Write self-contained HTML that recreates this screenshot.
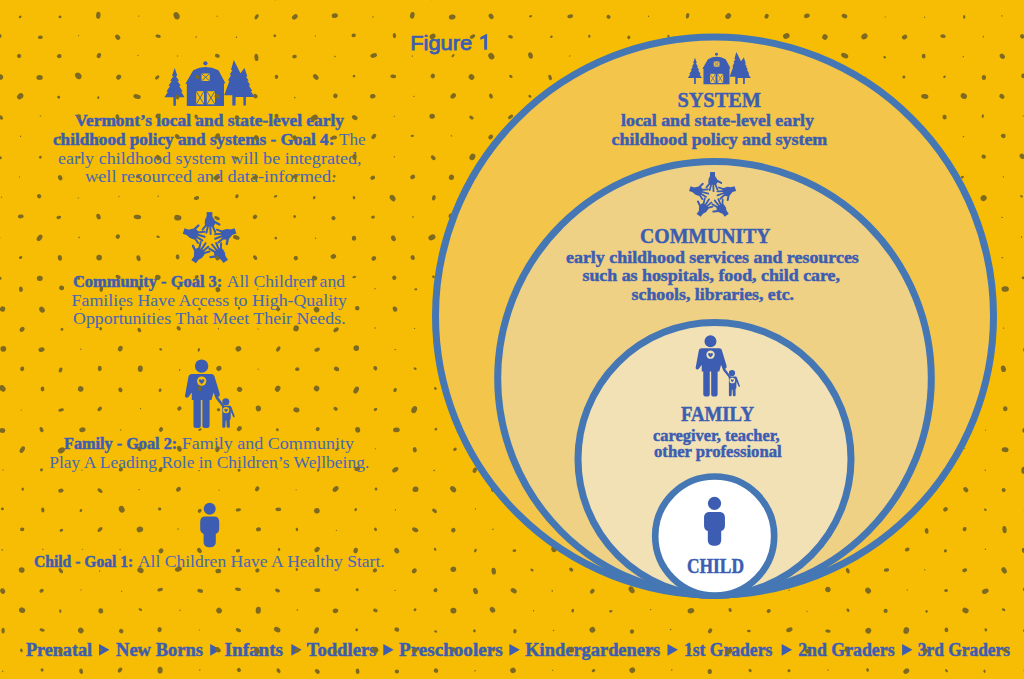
<!DOCTYPE html>
<html><head><meta charset="utf-8"><style>
html,body{margin:0;padding:0;background:#F7BD04;width:1024px;height:679px;overflow:hidden}
svg{display:block}
</style></head><body>
<svg width="1024" height="679" viewBox="0 0 1024 679">
<rect width="1024" height="679" fill="#F7BD04"/>
<g fill="#3C5DB1">
<g transform="translate(158,55)"><path d="M16.7,13.1 L19.32,20.80 17.82,21.00 21.02,25.80 19.52,26.00 22.69,30.70 21.19,30.90 24.69,36.60 23.19,36.80 26.60,42.20 L17.9,42.2 L17.9,50.8 L15.4,50.8 L15.4,42.2 L6.50,42.20 9.96,36.80 8.46,36.60 12.03,30.90 10.53,30.70 13.75,26.00 12.25,25.80 15.50,21.00 14.00,20.80 Z"/><path d="M75.8,4.9 L82.4,18.2 L86.5,13.0 L89.39,21.50 87.89,21.70 90.79,25.60 89.29,25.80 92.28,30.00 90.78,30.20 94.29,35.90 92.79,36.10 96.40,42.10 L87.9,42.1 L87.9,50.6 L85.4,50.6 L85.4,42.1 L77.6,42.1 L77.6,50.6 L74.3,50.6 L74.3,40.3 L66.2,40.3 L71.45,25.80 69.95,25.60 73.12,19.90 71.62,19.70 74.48,15.10 72.98,14.90 Z"/><path d="M35.2,15.2 Q47.4,8.6 60.5,15.2 L67.4,28.3 L66,28.6 L66,51 L28.8,51 L28.8,28.8 L27.3,29 Z"/><circle cx="47.4" cy="8.3" r="2.1"/><rect x="43.5" y="18.5" width="8.20" height="7.50" fill="#F7BD04"/><path d="M43.5,18.5 L51.7,26 M51.7,18.5 L43.5,26" stroke="#3C5DB1" stroke-width="0.9" fill="none"/><rect x="38.2" y="36.2" width="7.80" height="13.10" fill="#F7BD04"/><path d="M38.2,36.2 L46,49.3 M46,36.2 L38.2,49.3" stroke="#3C5DB1" stroke-width="0.9" fill="none"/><rect x="48.8" y="36.2" width="8.20" height="13.10" fill="#F7BD04"/><path d="M48.8,36.2 L57,49.3 M57,36.2 L48.8,49.3" stroke="#3C5DB1" stroke-width="0.9" fill="none"/></g>
<g transform="translate(209.6,239.4) scale(1.05)"><g transform="rotate(0)"><rect x="-2.8" y="-26" width="5.4" height="5"/><path d="M-2.8,-21.8 L2.6,-21.8 L4.6,-18.8 L5.3,-15 L3.8,-12.2 L-3.8,-12.4 L-4.6,-15 L-4.4,-18.6 Z"/><g stroke="#3C5DB1" stroke-linecap="round" fill="none"><path d="M-3.5,-13.4 L-6.7,-9.4" stroke-width="1.9"/><path d="M-1.5,-12.8 L-3.1,-6.4" stroke-width="1.9"/><path d="M0.7,-12.8 L1.0,-5.2" stroke-width="1.9"/><path d="M2.8,-13 L5.4,-7.0" stroke-width="1.9"/><path d="M4.2,-17 L9.3,-14.2" stroke-width="2.2"/></g></g><g transform="rotate(72)"><rect x="-2.8" y="-26" width="5.4" height="5"/><path d="M-2.8,-21.8 L2.6,-21.8 L4.6,-18.8 L5.3,-15 L3.8,-12.2 L-3.8,-12.4 L-4.6,-15 L-4.4,-18.6 Z"/><g stroke="#3C5DB1" stroke-linecap="round" fill="none"><path d="M-3.5,-13.4 L-6.7,-9.4" stroke-width="1.9"/><path d="M-1.5,-12.8 L-3.1,-6.4" stroke-width="1.9"/><path d="M0.7,-12.8 L1.0,-5.2" stroke-width="1.9"/><path d="M2.8,-13 L5.4,-7.0" stroke-width="1.9"/><path d="M4.2,-17 L9.3,-14.2" stroke-width="2.2"/></g></g><g transform="rotate(144)"><rect x="-2.8" y="-26" width="5.4" height="5"/><path d="M-2.8,-21.8 L2.6,-21.8 L4.6,-18.8 L5.3,-15 L3.8,-12.2 L-3.8,-12.4 L-4.6,-15 L-4.4,-18.6 Z"/><g stroke="#3C5DB1" stroke-linecap="round" fill="none"><path d="M-3.5,-13.4 L-6.7,-9.4" stroke-width="1.9"/><path d="M-1.5,-12.8 L-3.1,-6.4" stroke-width="1.9"/><path d="M0.7,-12.8 L1.0,-5.2" stroke-width="1.9"/><path d="M2.8,-13 L5.4,-7.0" stroke-width="1.9"/><path d="M4.2,-17 L9.3,-14.2" stroke-width="2.2"/></g></g><g transform="rotate(216)"><rect x="-2.8" y="-26" width="5.4" height="5"/><path d="M-2.8,-21.8 L2.6,-21.8 L4.6,-18.8 L5.3,-15 L3.8,-12.2 L-3.8,-12.4 L-4.6,-15 L-4.4,-18.6 Z"/><g stroke="#3C5DB1" stroke-linecap="round" fill="none"><path d="M-3.5,-13.4 L-6.7,-9.4" stroke-width="1.9"/><path d="M-1.5,-12.8 L-3.1,-6.4" stroke-width="1.9"/><path d="M0.7,-12.8 L1.0,-5.2" stroke-width="1.9"/><path d="M2.8,-13 L5.4,-7.0" stroke-width="1.9"/><path d="M4.2,-17 L9.3,-14.2" stroke-width="2.2"/></g></g><g transform="rotate(288)"><rect x="-2.8" y="-26" width="5.4" height="5"/><path d="M-2.8,-21.8 L2.6,-21.8 L4.6,-18.8 L5.3,-15 L3.8,-12.2 L-3.8,-12.4 L-4.6,-15 L-4.4,-18.6 Z"/><g stroke="#3C5DB1" stroke-linecap="round" fill="none"><path d="M-3.5,-13.4 L-6.7,-9.4" stroke-width="1.9"/><path d="M-1.5,-12.8 L-3.1,-6.4" stroke-width="1.9"/><path d="M0.7,-12.8 L1.0,-5.2" stroke-width="1.9"/><path d="M2.8,-13 L5.4,-7.0" stroke-width="1.9"/><path d="M4.2,-17 L9.3,-14.2" stroke-width="2.2"/></g></g></g>
<g transform="translate(178,354)"><path d="M23.6,20 L33.5,20 C35,20 36,21 36.5,22.5 L41.5,39 C42,41 42,42.5 40,43 L46.5,52 L44.5,53 L37.8,44.5 L35.5,38.5 L33.5,46 L31.6,46 L31.6,71.5 C31.6,74 29.5,74 28,74 C26,74 24.4,74 24.4,71.5 L24.4,46 L22.8,46 L22.8,71.5 C22.8,74 21,74 19.5,74 C17.5,74 15.5,74 15.5,71.5 L15.5,46 L13.8,46 L13.8,38.5 L10.5,43 C9,44.5 6.5,43.5 7,41.5 L10.5,22.5 C11,21 12,20 13.8,20 Z"/><circle cx="23.6" cy="12.1" r="6.7"/><path d="M45.5,51.7 L51.5,51.7 C52.5,51.7 53,52.2 53.4,53 L56.6,62 C57,63 56,63.8 55.2,63 L52.8,57.5 L52.6,65.5 L51.8,65.5 L51.8,73 C51.8,74 49,74 48.8,73 L48.4,66.5 L47.6,66.5 L47.4,73 C47.2,74 44.5,74 44.3,73 L44.3,54.5 L44,52.5 Z"/><circle cx="47.8" cy="47.7" r="3.5"/><circle cx="23.67" cy="27.1" r="4.7" fill="#F7BD04"/><path d="M23.67,26.3 C23.2,24.8 21.0,24.8 21.0,26.5 C21.0,27.9 22.6,28.9 23.67,30.2 C24.7,28.9 26.3,27.9 26.3,26.5 C26.3,24.8 24.1,24.8 23.67,26.3 Z" fill="#3C5DB1"/><circle cx="48.1" cy="56.1" r="3.2" fill="#F7BD04"/><path d="M48.1,55.5 C47.8,54.5 46.3,54.5 46.3,55.7 C46.3,56.6 47.4,57.3 48.1,58.2 C48.8,57.3 49.9,56.6 49.9,55.7 C49.9,54.5 48.4,54.5 48.1,55.5 Z" fill="#3C5DB1"/></g>
<g transform="translate(209.7,508.7)"><circle cx="0" cy="0" r="6"/><path d="M-4.5,7.8 L4.5,7.8 C7.6,7.8 9.5,9.7 9.5,13 L9.5,20 C9.5,22.5 8.6,24 6.1,25.2 L6.1,33 C6.1,37 3.6,38.6 0,38.6 C-3.6,38.6 -6.1,37 -6.1,33 L-6.1,25.2 C-8.6,24 -9.5,22.5 -9.5,20 L-9.5,13 C-9.5,9.7 -7.6,7.8 -4.5,7.8 Z"/></g>
<text x="75" y="126" font-size="16.5" textLength="269.0" lengthAdjust="spacingAndGlyphs" font-family="Liberation Serif" ><tspan font-weight="bold" stroke="#3C5DB1" stroke-width="0.45">Vermont’s local and state-level early</tspan></text><text x="53" y="144.8" font-size="16.5" textLength="281.4" lengthAdjust="spacingAndGlyphs" font-family="Liberation Serif" ><tspan font-weight="bold" stroke="#3C5DB1" stroke-width="0.45">childhood policy and systems - Goal 4:</tspan></text><text x="339" y="144.8" font-size="17.24" textLength="26.6" lengthAdjust="spacingAndGlyphs" font-family="Liberation Serif" ><tspan font-weight="normal" fill="#4667B6">The</tspan></text><text x="58" y="163.6" font-size="17.24" textLength="303.6" lengthAdjust="spacingAndGlyphs" font-family="Liberation Serif" ><tspan font-weight="normal" fill="#4667B6">early childhood system will be integrated,</tspan></text><text x="85" y="181.6" font-size="17.24" textLength="250.7" lengthAdjust="spacingAndGlyphs" font-family="Liberation Serif" ><tspan font-weight="normal" fill="#4667B6">well resourced and data-informed.</tspan></text><text x="73" y="287" font-size="16.5" textLength="149.3" lengthAdjust="spacingAndGlyphs" font-family="Liberation Serif" ><tspan font-weight="bold" stroke="#3C5DB1" stroke-width="0.45">Community - Goal 3:</tspan></text><text x="226.7" y="287" font-size="17.24" textLength="118.3" lengthAdjust="spacingAndGlyphs" font-family="Liberation Serif" ><tspan font-weight="normal" fill="#4667B6">All Children and</tspan></text><text x="71.6" y="305.6" font-size="17.24" textLength="275.4" lengthAdjust="spacingAndGlyphs" font-family="Liberation Serif" ><tspan font-weight="normal" fill="#4667B6">Families Have Access to High-Quality</tspan></text><text x="73" y="323.6" font-size="17.24" textLength="272.6" lengthAdjust="spacingAndGlyphs" font-family="Liberation Serif" ><tspan font-weight="normal" fill="#4667B6">Opportunities That Meet Their Needs.</tspan></text><text x="64" y="448.5" font-size="16.5" textLength="113.2" lengthAdjust="spacingAndGlyphs" font-family="Liberation Serif" ><tspan font-weight="bold" stroke="#3C5DB1" stroke-width="0.45">Family - Goal 2:</tspan></text><text x="181.7" y="448.5" font-size="17.24" textLength="172.3" lengthAdjust="spacingAndGlyphs" font-family="Liberation Serif" ><tspan font-weight="normal" fill="#4667B6">Family and Community</tspan></text><text x="49.3" y="467.8" font-size="17.24" textLength="320.0" lengthAdjust="spacingAndGlyphs" font-family="Liberation Serif" ><tspan font-weight="normal" fill="#4667B6">Play A Leading Role in Children’s Wellbeing.</tspan></text><text x="34" y="567" font-size="16.5" textLength="99.2" lengthAdjust="spacingAndGlyphs" font-family="Liberation Serif" ><tspan font-weight="bold" stroke="#3C5DB1" stroke-width="0.45">Child - Goal 1:</tspan></text><text x="137.9" y="567" font-size="17.24" textLength="246.8" lengthAdjust="spacingAndGlyphs" font-family="Liberation Serif" ><tspan font-weight="normal" fill="#4667B6">All Children Have A Healthy Start.</tspan></text>
<text x="410.2" y="49.9" font-size="21" textLength="62" lengthAdjust="spacingAndGlyphs" font-family="Liberation Sans" stroke="#3C5DB1" stroke-width="0.75">Figure</text><path d="M487.1,34 L487.1,49.7 L484.2,49.7 L484.2,38.3 L480.3,39.7 L480.3,37.2 L486.4,34 Z"/>
<text x="26" y="656.3" font-size="18" textLength="66.0" lengthAdjust="spacingAndGlyphs" font-family="Liberation Serif" ><tspan font-weight="bold" stroke="#3C5DB1" stroke-width="0.45">Prenatal</tspan></text><text x="116" y="656.3" font-size="18" textLength="87.0" lengthAdjust="spacingAndGlyphs" font-family="Liberation Serif" ><tspan font-weight="bold" stroke="#3C5DB1" stroke-width="0.45">New Borns</tspan></text><text x="224.6" y="656.3" font-size="18" textLength="58.4" lengthAdjust="spacingAndGlyphs" font-family="Liberation Serif" ><tspan font-weight="bold" stroke="#3C5DB1" stroke-width="0.45">Infants</tspan></text><text x="306.7" y="656.3" font-size="18" textLength="69.8" lengthAdjust="spacingAndGlyphs" font-family="Liberation Serif" ><tspan font-weight="bold" stroke="#3C5DB1" stroke-width="0.45">Toddlers</tspan></text><text x="399" y="656.3" font-size="18" textLength="103.6" lengthAdjust="spacingAndGlyphs" font-family="Liberation Serif" ><tspan font-weight="bold" stroke="#3C5DB1" stroke-width="0.45">Preschoolers</tspan></text><text x="525.3" y="656.3" font-size="18" textLength="135.0" lengthAdjust="spacingAndGlyphs" font-family="Liberation Serif" ><tspan font-weight="bold" stroke="#3C5DB1" stroke-width="0.45">Kindergardeners</tspan></text><text x="684" y="656.3" font-size="18" textLength="88.3" lengthAdjust="spacingAndGlyphs" font-family="Liberation Serif" ><tspan font-weight="bold" stroke="#3C5DB1" stroke-width="0.45">1st Graders</tspan></text><text x="798.2" y="656.3" font-size="18" textLength="96.4" lengthAdjust="spacingAndGlyphs" font-family="Liberation Serif" ><tspan font-weight="bold" stroke="#3C5DB1" stroke-width="0.45">2nd Graders</tspan></text><text x="917.8" y="656.3" font-size="18" textLength="92.2" lengthAdjust="spacingAndGlyphs" font-family="Liberation Serif" ><tspan font-weight="bold" stroke="#3C5DB1" stroke-width="0.45">3rd Graders</tspan></text><path d="M99.0,643.9 L109.4,649.85 L99.0,655.8 Z"/><path d="M210.2,643.9 L220.6,649.85 L210.2,655.8 Z"/><path d="M291.3,643.9 L301.7,649.85 L291.3,655.8 Z"/><path d="M383.3,643.9 L393.7,649.85 L383.3,655.8 Z"/><path d="M509.4,643.9 L519.8,649.85 L509.4,655.8 Z"/><path d="M667.5,643.9 L677.9,649.85 L667.5,655.8 Z"/><path d="M781.7,643.9 L792.1,649.85 L781.7,655.8 Z"/><path d="M902.1,643.9 L912.5,649.85 L902.1,655.8 Z"/>
</g>
<g fill="#7D6A22"><ellipse cx="0.6" cy="-4.1" rx="1.4" ry="1.3" transform="rotate(13 0.6 -4.1)"/><ellipse cx="38.9" cy="-4.7" rx="0.8" ry="0.5" transform="rotate(78 38.9 -4.7)"/><ellipse cx="79.4" cy="-3.0" rx="2.8" ry="1.7" transform="rotate(40 79.4 -3.0)"/><ellipse cx="119.1" cy="-4.3" rx="2.4" ry="2.3" transform="rotate(8 119.1 -4.3)"/><ellipse cx="157.1" cy="-3.7" rx="0.7" ry="0.6" transform="rotate(147 157.1 -3.7)"/><ellipse cx="196.1" cy="-4.4" rx="2.4" ry="2.0" transform="rotate(11 196.1 -4.4)"/><ellipse cx="236.2" cy="-4.3" rx="2.5" ry="1.8" transform="rotate(105 236.2 -4.3)"/><ellipse cx="275.7" cy="-3.1" rx="3.4" ry="2.2" transform="rotate(103 275.7 -3.1)"/><ellipse cx="314.7" cy="-3.3" rx="2.3" ry="2.3" transform="rotate(21 314.7 -3.3)"/><ellipse cx="354.7" cy="-3.7" rx="0.8" ry="0.5" transform="rotate(120 354.7 -3.7)"/><ellipse cx="393.7" cy="-3.9" rx="3.0" ry="2.6" transform="rotate(107 393.7 -3.9)"/><ellipse cx="431.9" cy="-3.4" rx="3.7" ry="2.4" transform="rotate(120 431.9 -3.4)"/><ellipse cx="471.9" cy="-3.5" rx="3.0" ry="2.2" transform="rotate(51 471.9 -3.5)"/><ellipse cx="510.5" cy="-3.3" rx="0.8" ry="0.5" transform="rotate(21 510.5 -3.3)"/><ellipse cx="549.9" cy="-4.0" rx="0.7" ry="0.6" transform="rotate(157 549.9 -4.0)"/><ellipse cx="589.6" cy="-4.0" rx="2.9" ry="2.2" transform="rotate(156 589.6 -4.0)"/><ellipse cx="628.7" cy="-4.4" rx="1.9" ry="1.5" transform="rotate(27 628.7 -4.4)"/><ellipse cx="667.6" cy="-4.0" rx="1.6" ry="1.3" transform="rotate(47 667.6 -4.0)"/><ellipse cx="707.9" cy="-3.6" rx="1.7" ry="1.5" transform="rotate(124 707.9 -3.6)"/><ellipse cx="747.9" cy="-3.3" rx="2.1" ry="2.2" transform="rotate(140 747.9 -3.3)"/><ellipse cx="785.6" cy="-4.7" rx="2.4" ry="1.7" transform="rotate(114 785.6 -4.7)"/><ellipse cx="824.8" cy="-4.5" rx="1.4" ry="1.2" transform="rotate(9 824.8 -4.5)"/><ellipse cx="865.3" cy="-4.6" rx="0.7" ry="0.5" transform="rotate(157 865.3 -4.6)"/><ellipse cx="905.1" cy="-2.9" rx="1.6" ry="1.2" transform="rotate(22 905.1 -2.9)"/><ellipse cx="943.4" cy="-4.3" rx="2.5" ry="1.7" transform="rotate(18 943.4 -4.3)"/><ellipse cx="983.1" cy="-4.6" rx="2.8" ry="2.1" transform="rotate(171 983.1 -4.6)"/><ellipse cx="1023.0" cy="-3.5" rx="2.1" ry="2.0" transform="rotate(176 1023.0 -3.5)"/><ellipse cx="20.1" cy="16.8" rx="1.6" ry="1.1" transform="rotate(139 20.1 16.8)"/><ellipse cx="60.0" cy="16.9" rx="1.5" ry="1.4" transform="rotate(177 60.0 16.9)"/><ellipse cx="98.3" cy="15.3" rx="3.5" ry="2.2" transform="rotate(93 98.3 15.3)"/><ellipse cx="138.8" cy="16.1" rx="0.7" ry="0.5" transform="rotate(125 138.8 16.1)"/><ellipse cx="176.6" cy="15.7" rx="3.8" ry="2.9" transform="rotate(66 176.6 15.7)"/><ellipse cx="217.2" cy="16.2" rx="0.7" ry="0.6" transform="rotate(162 217.2 16.2)"/><ellipse cx="256.6" cy="16.8" rx="2.8" ry="1.7" transform="rotate(119 256.6 16.8)"/><ellipse cx="294.8" cy="16.9" rx="3.2" ry="2.2" transform="rotate(142 294.8 16.9)"/><ellipse cx="334.8" cy="15.6" rx="3.1" ry="2.4" transform="rotate(170 334.8 15.6)"/><ellipse cx="373.0" cy="16.9" rx="0.7" ry="0.7" transform="rotate(145 373.0 16.9)"/><ellipse cx="412.3" cy="15.3" rx="3.4" ry="2.3" transform="rotate(99 412.3 15.3)"/><ellipse cx="452.2" cy="17.0" rx="3.4" ry="2.5" transform="rotate(168 452.2 17.0)"/><ellipse cx="491.1" cy="16.4" rx="2.9" ry="2.2" transform="rotate(53 491.1 16.4)"/><ellipse cx="530.6" cy="16.2" rx="1.6" ry="1.1" transform="rotate(164 530.6 16.2)"/><ellipse cx="570.2" cy="16.3" rx="2.9" ry="1.9" transform="rotate(165 570.2 16.3)"/><ellipse cx="608.5" cy="16.8" rx="2.1" ry="1.9" transform="rotate(33 608.5 16.8)"/><ellipse cx="648.5" cy="16.3" rx="0.8" ry="0.6" transform="rotate(100 648.5 16.3)"/><ellipse cx="687.6" cy="15.8" rx="2.8" ry="1.7" transform="rotate(101 687.6 15.8)"/><ellipse cx="728.2" cy="16.1" rx="3.2" ry="2.5" transform="rotate(137 728.2 16.1)"/><ellipse cx="766.6" cy="16.3" rx="2.5" ry="2.0" transform="rotate(125 766.6 16.3)"/><ellipse cx="806.9" cy="15.8" rx="2.9" ry="2.1" transform="rotate(158 806.9 15.8)"/><ellipse cx="844.5" cy="16.1" rx="2.9" ry="2.2" transform="rotate(25 844.5 16.1)"/><ellipse cx="885.2" cy="17.0" rx="0.7" ry="0.5" transform="rotate(121 885.2 17.0)"/><ellipse cx="924.7" cy="17.2" rx="0.8" ry="0.6" transform="rotate(26 924.7 17.2)"/><ellipse cx="964.2" cy="16.9" rx="1.9" ry="1.2" transform="rotate(88 964.2 16.9)"/><ellipse cx="1001.9" cy="15.9" rx="0.8" ry="0.6" transform="rotate(61 1001.9 15.9)"/><ellipse cx="-0.5" cy="36.0" rx="2.1" ry="2.0" transform="rotate(79 -0.5 36.0)"/><ellipse cx="40.4" cy="37.3" rx="2.5" ry="1.7" transform="rotate(177 40.4 37.3)"/><ellipse cx="78.6" cy="35.6" rx="0.7" ry="0.5" transform="rotate(140 78.6 35.6)"/><ellipse cx="117.7" cy="37.2" rx="2.9" ry="2.2" transform="rotate(47 117.7 37.2)"/><ellipse cx="158.1" cy="36.2" rx="2.7" ry="1.7" transform="rotate(10 158.1 36.2)"/><ellipse cx="196.2" cy="37.1" rx="0.9" ry="0.6" transform="rotate(144 196.2 37.1)"/><ellipse cx="236.4" cy="37.2" rx="0.9" ry="0.6" transform="rotate(61 236.4 37.2)"/><ellipse cx="274.8" cy="35.7" rx="1.4" ry="1.3" transform="rotate(43 274.8 35.7)"/><ellipse cx="315.4" cy="35.9" rx="0.7" ry="0.6" transform="rotate(55 315.4 35.9)"/><ellipse cx="353.7" cy="35.4" rx="2.2" ry="1.8" transform="rotate(3 353.7 35.4)"/><ellipse cx="394.4" cy="35.6" rx="2.6" ry="1.7" transform="rotate(85 394.4 35.6)"/><ellipse cx="432.6" cy="36.4" rx="3.1" ry="2.5" transform="rotate(150 432.6 36.4)"/><ellipse cx="472.5" cy="36.6" rx="3.0" ry="1.8" transform="rotate(150 472.5 36.6)"/><ellipse cx="510.5" cy="36.8" rx="2.4" ry="1.6" transform="rotate(23 510.5 36.8)"/><ellipse cx="551.4" cy="36.7" rx="1.4" ry="1.1" transform="rotate(151 551.4 36.7)"/><ellipse cx="589.3" cy="36.2" rx="1.5" ry="1.2" transform="rotate(83 589.3 36.2)"/><ellipse cx="628.8" cy="37.3" rx="1.9" ry="1.5" transform="rotate(98 628.8 37.3)"/><ellipse cx="668.5" cy="36.4" rx="1.6" ry="1.1" transform="rotate(69 668.5 36.4)"/><ellipse cx="707.1" cy="36.1" rx="1.7" ry="1.1" transform="rotate(48 707.1 36.1)"/><ellipse cx="747.4" cy="36.4" rx="0.6" ry="0.6" transform="rotate(42 747.4 36.4)"/><ellipse cx="786.3" cy="36.0" rx="3.4" ry="2.7" transform="rotate(158 786.3 36.0)"/><ellipse cx="824.9" cy="37.0" rx="2.8" ry="2.7" transform="rotate(116 824.9 37.0)"/><ellipse cx="864.4" cy="36.4" rx="3.3" ry="2.7" transform="rotate(146 864.4 36.4)"/><ellipse cx="904.6" cy="37.1" rx="2.8" ry="2.2" transform="rotate(149 904.6 37.1)"/><ellipse cx="943.0" cy="36.1" rx="2.7" ry="1.8" transform="rotate(6 943.0 36.1)"/><ellipse cx="983.3" cy="36.7" rx="0.9" ry="0.6" transform="rotate(113 983.3 36.7)"/><ellipse cx="1022.3" cy="36.4" rx="2.1" ry="2.2" transform="rotate(135 1022.3 36.4)"/><ellipse cx="19.1" cy="56.0" rx="2.1" ry="2.1" transform="rotate(45 19.1 56.0)"/><ellipse cx="59.3" cy="56.2" rx="2.3" ry="2.1" transform="rotate(176 59.3 56.2)"/><ellipse cx="98.9" cy="55.6" rx="2.7" ry="2.1" transform="rotate(111 98.9 55.6)"/><ellipse cx="138.0" cy="55.5" rx="0.7" ry="0.6" transform="rotate(55 138.0 55.5)"/><ellipse cx="177.6" cy="56.0" rx="0.7" ry="0.6" transform="rotate(125 177.6 56.0)"/><ellipse cx="217.3" cy="55.8" rx="2.5" ry="1.9" transform="rotate(21 217.3 55.8)"/><ellipse cx="256.4" cy="57.4" rx="3.7" ry="2.0" transform="rotate(83 256.4 57.4)"/><ellipse cx="294.5" cy="56.6" rx="2.3" ry="1.8" transform="rotate(170 294.5 56.6)"/><ellipse cx="335.0" cy="56.5" rx="0.8" ry="0.7" transform="rotate(24 335.0 56.5)"/><ellipse cx="373.7" cy="55.5" rx="3.4" ry="2.2" transform="rotate(162 373.7 55.5)"/><ellipse cx="412.3" cy="56.1" rx="0.8" ry="0.6" transform="rotate(54 412.3 56.1)"/><ellipse cx="453.0" cy="55.7" rx="1.9" ry="1.1" transform="rotate(135 453.0 55.7)"/><ellipse cx="491.3" cy="56.2" rx="3.4" ry="2.8" transform="rotate(52 491.3 56.2)"/><ellipse cx="530.5" cy="55.5" rx="3.3" ry="2.3" transform="rotate(77 530.5 55.5)"/><ellipse cx="569.7" cy="56.0" rx="0.9" ry="0.5" transform="rotate(168 569.7 56.0)"/><ellipse cx="610.3" cy="57.1" rx="2.2" ry="1.9" transform="rotate(172 610.3 57.1)"/><ellipse cx="649.2" cy="55.5" rx="2.9" ry="2.3" transform="rotate(99 649.2 55.5)"/><ellipse cx="687.7" cy="55.5" rx="2.5" ry="2.1" transform="rotate(116 687.7 55.5)"/><ellipse cx="727.0" cy="56.9" rx="2.8" ry="2.4" transform="rotate(62 727.0 56.9)"/><ellipse cx="766.8" cy="56.2" rx="2.9" ry="2.6" transform="rotate(54 766.8 56.2)"/><ellipse cx="806.0" cy="55.9" rx="0.7" ry="0.5" transform="rotate(163 806.0 55.9)"/><ellipse cx="844.7" cy="55.6" rx="3.8" ry="2.4" transform="rotate(25 844.7 55.6)"/><ellipse cx="884.7" cy="57.2" rx="1.4" ry="1.2" transform="rotate(47 884.7 57.2)"/><ellipse cx="923.7" cy="56.1" rx="2.4" ry="1.9" transform="rotate(94 923.7 56.1)"/><ellipse cx="963.2" cy="56.7" rx="0.7" ry="0.7" transform="rotate(23 963.2 56.7)"/><ellipse cx="1002.3" cy="56.3" rx="2.9" ry="2.3" transform="rotate(45 1002.3 56.3)"/><ellipse cx="-0.4" cy="77.0" rx="3.6" ry="2.8" transform="rotate(4 -0.4 77.0)"/><ellipse cx="39.6" cy="77.4" rx="3.2" ry="2.5" transform="rotate(0 39.6 77.4)"/><ellipse cx="78.3" cy="75.9" rx="3.6" ry="2.9" transform="rotate(45 78.3 75.9)"/><ellipse cx="118.7" cy="77.1" rx="2.7" ry="2.3" transform="rotate(130 118.7 77.1)"/><ellipse cx="157.2" cy="77.4" rx="2.6" ry="1.6" transform="rotate(141 157.2 77.4)"/><ellipse cx="197.3" cy="76.9" rx="2.3" ry="1.7" transform="rotate(45 197.3 76.9)"/><ellipse cx="236.1" cy="76.0" rx="0.6" ry="0.6" transform="rotate(105 236.1 76.0)"/><ellipse cx="276.5" cy="76.8" rx="2.1" ry="1.8" transform="rotate(83 276.5 76.8)"/><ellipse cx="315.8" cy="77.0" rx="3.2" ry="2.2" transform="rotate(44 315.8 77.0)"/><ellipse cx="354.0" cy="76.1" rx="1.4" ry="1.3" transform="rotate(121 354.0 76.1)"/><ellipse cx="393.2" cy="76.4" rx="2.9" ry="1.8" transform="rotate(6 393.2 76.4)"/><ellipse cx="432.8" cy="76.0" rx="2.3" ry="2.2" transform="rotate(133 432.8 76.0)"/><ellipse cx="471.5" cy="77.1" rx="3.0" ry="2.7" transform="rotate(42 471.5 77.1)"/><ellipse cx="510.8" cy="76.4" rx="1.9" ry="1.3" transform="rotate(34 510.8 76.4)"/><ellipse cx="550.1" cy="77.5" rx="2.9" ry="1.7" transform="rotate(71 550.1 77.5)"/><ellipse cx="590.8" cy="77.3" rx="0.6" ry="0.5" transform="rotate(71 590.8 77.3)"/><ellipse cx="628.7" cy="77.4" rx="3.0" ry="2.3" transform="rotate(59 628.7 77.4)"/><ellipse cx="668.3" cy="76.2" rx="2.1" ry="2.1" transform="rotate(68 668.3 76.2)"/><ellipse cx="708.8" cy="75.8" rx="0.6" ry="0.5" transform="rotate(63 708.8 75.8)"/><ellipse cx="747.8" cy="76.4" rx="2.9" ry="2.3" transform="rotate(148 747.8 76.4)"/><ellipse cx="785.9" cy="76.3" rx="0.8" ry="0.6" transform="rotate(166 785.9 76.3)"/><ellipse cx="826.3" cy="75.6" rx="2.6" ry="2.4" transform="rotate(146 826.3 75.6)"/><ellipse cx="865.6" cy="77.3" rx="0.6" ry="0.7" transform="rotate(46 865.6 77.3)"/><ellipse cx="903.9" cy="77.0" rx="1.5" ry="1.5" transform="rotate(111 903.9 77.0)"/><ellipse cx="944.5" cy="76.8" rx="1.5" ry="1.1" transform="rotate(136 944.5 76.8)"/><ellipse cx="983.9" cy="77.5" rx="2.6" ry="2.2" transform="rotate(86 983.9 77.5)"/><ellipse cx="1023.2" cy="75.9" rx="2.3" ry="1.9" transform="rotate(89 1023.2 75.9)"/><ellipse cx="20.2" cy="96.3" rx="3.5" ry="2.7" transform="rotate(139 20.2 96.3)"/><ellipse cx="58.7" cy="97.2" rx="1.6" ry="1.4" transform="rotate(14 58.7 97.2)"/><ellipse cx="98.3" cy="97.6" rx="1.4" ry="1.1" transform="rotate(99 98.3 97.6)"/><ellipse cx="137.1" cy="96.6" rx="3.8" ry="2.3" transform="rotate(15 137.1 96.6)"/><ellipse cx="177.4" cy="97.0" rx="2.5" ry="1.8" transform="rotate(75 177.4 97.0)"/><ellipse cx="217.2" cy="96.2" rx="2.8" ry="2.1" transform="rotate(22 217.2 96.2)"/><ellipse cx="255.3" cy="96.1" rx="2.4" ry="2.1" transform="rotate(36 255.3 96.1)"/><ellipse cx="294.9" cy="97.6" rx="0.9" ry="0.6" transform="rotate(59 294.9 97.6)"/><ellipse cx="335.4" cy="95.9" rx="2.3" ry="2.2" transform="rotate(118 335.4 95.9)"/><ellipse cx="372.8" cy="96.2" rx="2.8" ry="2.2" transform="rotate(165 372.8 96.2)"/><ellipse cx="413.9" cy="96.4" rx="0.7" ry="0.7" transform="rotate(105 413.9 96.4)"/><ellipse cx="453.2" cy="95.9" rx="3.1" ry="2.3" transform="rotate(140 453.2 95.9)"/><ellipse cx="490.9" cy="96.1" rx="2.6" ry="1.8" transform="rotate(66 490.9 96.1)"/><ellipse cx="529.9" cy="96.3" rx="1.7" ry="1.3" transform="rotate(37 529.9 96.3)"/><ellipse cx="570.8" cy="96.7" rx="2.2" ry="1.8" transform="rotate(37 570.8 96.7)"/><ellipse cx="609.8" cy="95.8" rx="0.7" ry="0.6" transform="rotate(99 609.8 95.8)"/><ellipse cx="648.4" cy="97.6" rx="0.8" ry="0.6" transform="rotate(51 648.4 97.6)"/><ellipse cx="688.8" cy="97.6" rx="1.7" ry="1.2" transform="rotate(75 688.8 97.6)"/><ellipse cx="726.4" cy="97.5" rx="1.5" ry="1.4" transform="rotate(37 726.4 97.5)"/><ellipse cx="766.6" cy="96.0" rx="2.8" ry="1.9" transform="rotate(159 766.6 96.0)"/><ellipse cx="805.2" cy="96.9" rx="0.8" ry="0.6" transform="rotate(164 805.2 96.9)"/><ellipse cx="845.3" cy="97.5" rx="1.7" ry="1.1" transform="rotate(51 845.3 97.5)"/><ellipse cx="884.0" cy="95.9" rx="0.8" ry="0.7" transform="rotate(174 884.0 95.9)"/><ellipse cx="924.8" cy="96.4" rx="3.7" ry="2.4" transform="rotate(10 924.8 96.4)"/><ellipse cx="963.8" cy="96.1" rx="3.3" ry="2.7" transform="rotate(29 963.8 96.1)"/><ellipse cx="1001.9" cy="96.4" rx="2.8" ry="2.2" transform="rotate(33 1001.9 96.4)"/><ellipse cx="0.9" cy="117.5" rx="2.4" ry="1.7" transform="rotate(44 0.9 117.5)"/><ellipse cx="40.5" cy="116.0" rx="0.8" ry="0.6" transform="rotate(7 40.5 116.0)"/><ellipse cx="78.9" cy="116.9" rx="2.6" ry="2.0" transform="rotate(55 78.9 116.9)"/><ellipse cx="117.4" cy="117.0" rx="2.7" ry="1.9" transform="rotate(79 117.4 117.0)"/><ellipse cx="157.6" cy="116.1" rx="2.3" ry="2.1" transform="rotate(140 157.6 116.1)"/><ellipse cx="196.2" cy="116.6" rx="2.2" ry="1.7" transform="rotate(78 196.2 116.6)"/><ellipse cx="236.8" cy="117.3" rx="2.1" ry="2.0" transform="rotate(15 236.8 117.3)"/><ellipse cx="276.5" cy="116.0" rx="2.1" ry="2.0" transform="rotate(68 276.5 116.0)"/><ellipse cx="314.3" cy="117.7" rx="3.8" ry="2.7" transform="rotate(147 314.3 117.7)"/><ellipse cx="354.8" cy="117.6" rx="3.0" ry="2.2" transform="rotate(30 354.8 117.6)"/><ellipse cx="394.3" cy="116.3" rx="0.7" ry="0.6" transform="rotate(29 394.3 116.3)"/><ellipse cx="432.2" cy="116.3" rx="2.8" ry="2.5" transform="rotate(166 432.2 116.3)"/><ellipse cx="471.4" cy="117.6" rx="2.4" ry="1.6" transform="rotate(33 471.4 117.6)"/><ellipse cx="510.6" cy="116.8" rx="2.9" ry="1.7" transform="rotate(141 510.6 116.8)"/><ellipse cx="550.9" cy="117.5" rx="2.4" ry="2.2" transform="rotate(100 550.9 117.5)"/><ellipse cx="590.6" cy="116.3" rx="0.9" ry="0.6" transform="rotate(71 590.6 116.3)"/><ellipse cx="629.2" cy="116.1" rx="3.3" ry="2.3" transform="rotate(138 629.2 116.1)"/><ellipse cx="668.9" cy="117.7" rx="2.1" ry="2.2" transform="rotate(46 668.9 117.7)"/><ellipse cx="707.0" cy="116.0" rx="2.7" ry="1.8" transform="rotate(0 707.0 116.0)"/><ellipse cx="746.5" cy="116.2" rx="2.5" ry="2.0" transform="rotate(161 746.5 116.2)"/><ellipse cx="785.7" cy="116.5" rx="2.1" ry="1.6" transform="rotate(64 785.7 116.5)"/><ellipse cx="826.0" cy="116.7" rx="1.7" ry="1.3" transform="rotate(37 826.0 116.7)"/><ellipse cx="864.3" cy="117.0" rx="0.9" ry="0.5" transform="rotate(27 864.3 117.0)"/><ellipse cx="903.4" cy="117.0" rx="3.5" ry="2.4" transform="rotate(48 903.4 117.0)"/><ellipse cx="944.6" cy="117.2" rx="2.4" ry="2.1" transform="rotate(80 944.6 117.2)"/><ellipse cx="982.8" cy="116.2" rx="1.9" ry="1.1" transform="rotate(96 982.8 116.2)"/><ellipse cx="1023.2" cy="116.0" rx="0.8" ry="0.5" transform="rotate(99 1023.2 116.0)"/><ellipse cx="20.6" cy="136.2" rx="0.8" ry="0.6" transform="rotate(115 20.6 136.2)"/><ellipse cx="59.9" cy="137.3" rx="1.5" ry="1.1" transform="rotate(160 59.9 137.3)"/><ellipse cx="99.1" cy="136.8" rx="0.9" ry="0.6" transform="rotate(84 99.1 136.8)"/><ellipse cx="137.6" cy="137.3" rx="1.4" ry="1.2" transform="rotate(7 137.6 137.3)"/><ellipse cx="177.3" cy="136.7" rx="2.8" ry="2.1" transform="rotate(48 177.3 136.7)"/><ellipse cx="217.4" cy="136.3" rx="3.2" ry="2.3" transform="rotate(116 217.4 136.3)"/><ellipse cx="256.3" cy="137.7" rx="2.6" ry="2.3" transform="rotate(42 256.3 137.7)"/><ellipse cx="294.6" cy="137.7" rx="2.4" ry="2.2" transform="rotate(59 294.6 137.7)"/><ellipse cx="334.3" cy="137.5" rx="2.7" ry="2.1" transform="rotate(176 334.3 137.5)"/><ellipse cx="373.8" cy="136.5" rx="2.9" ry="1.9" transform="rotate(130 373.8 136.5)"/><ellipse cx="412.3" cy="135.9" rx="1.7" ry="1.1" transform="rotate(164 412.3 135.9)"/><ellipse cx="451.4" cy="135.9" rx="0.9" ry="0.6" transform="rotate(26 451.4 135.9)"/><ellipse cx="490.7" cy="137.0" rx="2.7" ry="2.1" transform="rotate(133 490.7 137.0)"/><ellipse cx="530.0" cy="137.6" rx="1.8" ry="1.4" transform="rotate(160 530.0 137.6)"/><ellipse cx="569.4" cy="135.9" rx="3.7" ry="2.1" transform="rotate(37 569.4 135.9)"/><ellipse cx="609.8" cy="136.4" rx="3.6" ry="2.6" transform="rotate(149 609.8 136.4)"/><ellipse cx="648.4" cy="136.7" rx="0.7" ry="0.6" transform="rotate(37 648.4 136.7)"/><ellipse cx="687.8" cy="136.5" rx="0.7" ry="0.5" transform="rotate(129 687.8 136.5)"/><ellipse cx="726.5" cy="136.7" rx="3.2" ry="2.8" transform="rotate(111 726.5 136.7)"/><ellipse cx="766.8" cy="136.3" rx="2.8" ry="1.8" transform="rotate(127 766.8 136.3)"/><ellipse cx="805.0" cy="136.3" rx="2.7" ry="2.7" transform="rotate(31 805.0 136.3)"/><ellipse cx="845.3" cy="137.4" rx="3.7" ry="2.0" transform="rotate(88 845.3 137.4)"/><ellipse cx="884.1" cy="137.7" rx="0.8" ry="0.6" transform="rotate(150 884.1 137.7)"/><ellipse cx="923.1" cy="137.1" rx="1.5" ry="1.4" transform="rotate(90 923.1 137.1)"/><ellipse cx="963.5" cy="136.6" rx="0.9" ry="0.6" transform="rotate(142 963.5 136.6)"/><ellipse cx="1003.3" cy="135.9" rx="2.4" ry="2.2" transform="rotate(16 1003.3 135.9)"/><ellipse cx="0.3" cy="157.7" rx="1.5" ry="1.5" transform="rotate(90 0.3 157.7)"/><ellipse cx="40.3" cy="157.2" rx="1.6" ry="1.3" transform="rotate(136 40.3 157.2)"/><ellipse cx="79.4" cy="157.4" rx="1.5" ry="1.1" transform="rotate(152 79.4 157.4)"/><ellipse cx="117.7" cy="156.9" rx="0.8" ry="0.7" transform="rotate(104 117.7 156.9)"/><ellipse cx="158.1" cy="157.6" rx="2.9" ry="2.2" transform="rotate(54 158.1 157.6)"/><ellipse cx="197.0" cy="156.3" rx="0.7" ry="0.5" transform="rotate(59 197.0 156.3)"/><ellipse cx="235.5" cy="157.9" rx="1.5" ry="1.5" transform="rotate(131 235.5 157.9)"/><ellipse cx="276.1" cy="156.8" rx="0.7" ry="0.7" transform="rotate(143 276.1 156.8)"/><ellipse cx="314.7" cy="156.0" rx="0.8" ry="0.5" transform="rotate(37 314.7 156.0)"/><ellipse cx="354.5" cy="156.9" rx="2.8" ry="2.1" transform="rotate(90 354.5 156.9)"/><ellipse cx="394.3" cy="156.8" rx="0.8" ry="0.6" transform="rotate(133 394.3 156.8)"/><ellipse cx="433.2" cy="157.7" rx="2.8" ry="1.9" transform="rotate(41 433.2 157.7)"/><ellipse cx="472.4" cy="156.9" rx="3.4" ry="2.8" transform="rotate(122 472.4 156.9)"/><ellipse cx="512.0" cy="157.4" rx="1.7" ry="1.1" transform="rotate(76 512.0 157.4)"/><ellipse cx="550.9" cy="156.8" rx="2.3" ry="1.9" transform="rotate(82 550.9 156.8)"/><ellipse cx="590.6" cy="156.7" rx="2.9" ry="1.7" transform="rotate(118 590.6 156.7)"/><ellipse cx="628.6" cy="157.5" rx="3.0" ry="1.6" transform="rotate(98 628.6 157.5)"/><ellipse cx="668.7" cy="157.4" rx="3.2" ry="2.1" transform="rotate(103 668.7 157.4)"/><ellipse cx="707.7" cy="157.8" rx="2.7" ry="2.2" transform="rotate(94 707.7 157.8)"/><ellipse cx="746.4" cy="157.9" rx="1.8" ry="1.2" transform="rotate(137 746.4 157.9)"/><ellipse cx="785.5" cy="156.8" rx="1.4" ry="1.2" transform="rotate(72 785.5 156.8)"/><ellipse cx="825.2" cy="157.4" rx="2.7" ry="1.9" transform="rotate(48 825.2 157.4)"/><ellipse cx="864.9" cy="156.4" rx="3.2" ry="2.2" transform="rotate(144 864.9 156.4)"/><ellipse cx="904.3" cy="157.1" rx="0.8" ry="0.7" transform="rotate(114 904.3 157.1)"/><ellipse cx="944.3" cy="157.6" rx="1.9" ry="1.2" transform="rotate(115 944.3 157.6)"/><ellipse cx="983.7" cy="156.7" rx="2.3" ry="2.0" transform="rotate(23 983.7 156.7)"/><ellipse cx="1022.2" cy="156.3" rx="2.9" ry="2.4" transform="rotate(46 1022.2 156.3)"/><ellipse cx="19.6" cy="177.0" rx="0.8" ry="0.5" transform="rotate(44 19.6 177.0)"/><ellipse cx="60.2" cy="177.8" rx="2.7" ry="2.1" transform="rotate(65 60.2 177.8)"/><ellipse cx="97.9" cy="177.7" rx="0.9" ry="0.7" transform="rotate(141 97.9 177.7)"/><ellipse cx="138.2" cy="176.6" rx="2.1" ry="1.6" transform="rotate(171 138.2 176.6)"/><ellipse cx="176.9" cy="176.4" rx="0.7" ry="0.5" transform="rotate(140 176.9 176.4)"/><ellipse cx="216.7" cy="177.6" rx="3.5" ry="2.2" transform="rotate(160 216.7 177.6)"/><ellipse cx="255.2" cy="177.4" rx="2.9" ry="2.2" transform="rotate(151 255.2 177.4)"/><ellipse cx="295.2" cy="176.6" rx="2.8" ry="1.9" transform="rotate(159 295.2 176.6)"/><ellipse cx="334.3" cy="176.3" rx="1.4" ry="1.3" transform="rotate(11 334.3 176.3)"/><ellipse cx="372.7" cy="177.7" rx="2.5" ry="2.0" transform="rotate(155 372.7 177.7)"/><ellipse cx="412.7" cy="176.9" rx="2.6" ry="2.1" transform="rotate(151 412.7 176.9)"/><ellipse cx="451.4" cy="177.3" rx="2.7" ry="2.6" transform="rotate(115 451.4 177.3)"/><ellipse cx="491.6" cy="177.0" rx="2.9" ry="1.8" transform="rotate(177 491.6 177.0)"/><ellipse cx="530.6" cy="177.8" rx="2.6" ry="2.7" transform="rotate(113 530.6 177.8)"/><ellipse cx="569.6" cy="176.9" rx="1.6" ry="1.3" transform="rotate(139 569.6 176.9)"/><ellipse cx="610.2" cy="176.9" rx="2.6" ry="2.2" transform="rotate(53 610.2 176.9)"/><ellipse cx="649.1" cy="177.6" rx="2.3" ry="2.0" transform="rotate(175 649.1 177.6)"/><ellipse cx="688.4" cy="177.6" rx="1.5" ry="1.2" transform="rotate(106 688.4 177.6)"/><ellipse cx="726.5" cy="176.7" rx="0.8" ry="0.7" transform="rotate(98 726.5 176.7)"/><ellipse cx="767.0" cy="177.6" rx="0.7" ry="0.7" transform="rotate(110 767.0 177.6)"/><ellipse cx="806.4" cy="177.2" rx="3.3" ry="2.6" transform="rotate(113 806.4 177.2)"/><ellipse cx="845.8" cy="176.3" rx="2.3" ry="2.1" transform="rotate(82 845.8 176.3)"/><ellipse cx="884.9" cy="176.8" rx="0.6" ry="0.7" transform="rotate(165 884.9 176.8)"/><ellipse cx="923.5" cy="176.9" rx="3.5" ry="2.5" transform="rotate(46 923.5 176.9)"/><ellipse cx="962.3" cy="177.2" rx="1.6" ry="1.3" transform="rotate(168 962.3 177.2)"/><ellipse cx="1003.3" cy="176.9" rx="0.7" ry="0.7" transform="rotate(104 1003.3 176.9)"/><ellipse cx="1.5" cy="197.1" rx="0.7" ry="0.6" transform="rotate(169 1.5 197.1)"/><ellipse cx="39.1" cy="196.2" rx="2.2" ry="2.1" transform="rotate(38 39.1 196.2)"/><ellipse cx="78.3" cy="197.9" rx="0.8" ry="0.5" transform="rotate(174 78.3 197.9)"/><ellipse cx="118.9" cy="196.5" rx="0.6" ry="0.6" transform="rotate(44 118.9 196.5)"/><ellipse cx="158.2" cy="196.3" rx="0.8" ry="0.6" transform="rotate(154 158.2 196.3)"/><ellipse cx="196.5" cy="198.1" rx="2.7" ry="1.9" transform="rotate(168 196.5 198.1)"/><ellipse cx="236.9" cy="196.3" rx="2.1" ry="1.6" transform="rotate(117 236.9 196.3)"/><ellipse cx="275.6" cy="196.3" rx="1.8" ry="1.1" transform="rotate(155 275.6 196.3)"/><ellipse cx="314.2" cy="197.7" rx="1.7" ry="1.2" transform="rotate(122 314.2 197.7)"/><ellipse cx="354.0" cy="197.7" rx="1.7" ry="1.3" transform="rotate(75 354.0 197.7)"/><ellipse cx="392.6" cy="198.1" rx="3.5" ry="2.5" transform="rotate(53 392.6 198.1)"/><ellipse cx="433.8" cy="197.8" rx="2.8" ry="1.8" transform="rotate(109 433.8 197.8)"/><ellipse cx="471.9" cy="197.5" rx="2.4" ry="1.9" transform="rotate(160 471.9 197.5)"/><ellipse cx="510.4" cy="196.7" rx="2.9" ry="2.2" transform="rotate(51 510.4 196.7)"/><ellipse cx="549.8" cy="197.8" rx="2.6" ry="2.2" transform="rotate(160 549.8 197.8)"/><ellipse cx="590.7" cy="197.8" rx="3.6" ry="2.5" transform="rotate(49 590.7 197.8)"/><ellipse cx="629.4" cy="197.7" rx="2.9" ry="1.8" transform="rotate(15 629.4 197.7)"/><ellipse cx="668.8" cy="197.5" rx="1.8" ry="1.5" transform="rotate(42 668.8 197.5)"/><ellipse cx="708.5" cy="197.1" rx="2.3" ry="1.8" transform="rotate(135 708.5 197.1)"/><ellipse cx="747.4" cy="197.9" rx="0.9" ry="0.7" transform="rotate(42 747.4 197.9)"/><ellipse cx="785.9" cy="196.5" rx="3.2" ry="2.4" transform="rotate(106 785.9 196.5)"/><ellipse cx="825.6" cy="197.2" rx="0.8" ry="0.6" transform="rotate(102 825.6 197.2)"/><ellipse cx="864.3" cy="197.4" rx="0.6" ry="0.7" transform="rotate(67 864.3 197.4)"/><ellipse cx="904.4" cy="196.2" rx="2.8" ry="2.5" transform="rotate(62 904.4 196.2)"/><ellipse cx="943.8" cy="196.7" rx="0.9" ry="0.7" transform="rotate(88 943.8 196.7)"/><ellipse cx="983.6" cy="198.1" rx="3.1" ry="2.9" transform="rotate(138 983.6 198.1)"/><ellipse cx="1021.5" cy="196.3" rx="1.4" ry="1.1" transform="rotate(33 1021.5 196.3)"/><ellipse cx="20.8" cy="216.4" rx="2.9" ry="1.9" transform="rotate(170 20.8 216.4)"/><ellipse cx="58.8" cy="217.4" rx="2.4" ry="1.7" transform="rotate(173 58.8 217.4)"/><ellipse cx="98.5" cy="216.6" rx="2.9" ry="2.1" transform="rotate(71 98.5 216.6)"/><ellipse cx="137.4" cy="217.0" rx="3.8" ry="2.2" transform="rotate(7 137.4 217.0)"/><ellipse cx="177.8" cy="217.7" rx="3.7" ry="2.8" transform="rotate(8 177.8 217.7)"/><ellipse cx="217.0" cy="218.1" rx="3.0" ry="1.6" transform="rotate(26 217.0 218.1)"/><ellipse cx="255.0" cy="216.9" rx="2.3" ry="2.0" transform="rotate(136 255.0 216.9)"/><ellipse cx="294.6" cy="216.5" rx="1.4" ry="1.3" transform="rotate(30 294.6 216.5)"/><ellipse cx="333.5" cy="218.1" rx="2.1" ry="2.1" transform="rotate(35 333.5 218.1)"/><ellipse cx="373.0" cy="217.1" rx="1.9" ry="1.4" transform="rotate(160 373.0 217.1)"/><ellipse cx="412.9" cy="216.9" rx="0.9" ry="0.7" transform="rotate(113 412.9 216.9)"/><ellipse cx="451.7" cy="216.4" rx="3.2" ry="2.6" transform="rotate(26 451.7 216.4)"/><ellipse cx="491.1" cy="217.1" rx="2.6" ry="1.7" transform="rotate(157 491.1 217.1)"/><ellipse cx="530.2" cy="217.2" rx="0.7" ry="0.7" transform="rotate(60 530.2 217.2)"/><ellipse cx="569.3" cy="218.0" rx="1.9" ry="1.1" transform="rotate(176 569.3 218.0)"/><ellipse cx="609.0" cy="216.7" rx="2.3" ry="1.9" transform="rotate(52 609.0 216.7)"/><ellipse cx="648.0" cy="216.8" rx="1.9" ry="1.5" transform="rotate(167 648.0 216.8)"/><ellipse cx="689.1" cy="216.3" rx="2.7" ry="2.7" transform="rotate(53 689.1 216.3)"/><ellipse cx="728.1" cy="217.3" rx="3.0" ry="2.2" transform="rotate(0 728.1 217.3)"/><ellipse cx="766.8" cy="216.5" rx="0.8" ry="0.7" transform="rotate(39 766.8 216.5)"/><ellipse cx="805.2" cy="216.4" rx="0.8" ry="0.6" transform="rotate(35 805.2 216.4)"/><ellipse cx="845.5" cy="217.7" rx="2.5" ry="1.8" transform="rotate(37 845.5 217.7)"/><ellipse cx="885.1" cy="217.1" rx="3.3" ry="2.2" transform="rotate(12 885.1 217.1)"/><ellipse cx="924.6" cy="218.0" rx="2.1" ry="2.2" transform="rotate(60 924.6 218.0)"/><ellipse cx="963.9" cy="216.8" rx="2.1" ry="2.2" transform="rotate(86 963.9 216.8)"/><ellipse cx="1002.2" cy="217.4" rx="0.9" ry="0.6" transform="rotate(29 1002.2 217.4)"/><ellipse cx="-0.3" cy="237.8" rx="0.8" ry="0.6" transform="rotate(93 -0.3 237.8)"/><ellipse cx="39.6" cy="237.9" rx="3.6" ry="2.3" transform="rotate(128 39.6 237.9)"/><ellipse cx="79.1" cy="237.4" rx="0.9" ry="0.7" transform="rotate(89 79.1 237.4)"/><ellipse cx="117.8" cy="236.6" rx="2.1" ry="2.3" transform="rotate(40 117.8 236.6)"/><ellipse cx="158.1" cy="236.7" rx="1.8" ry="1.1" transform="rotate(17 158.1 236.7)"/><ellipse cx="197.4" cy="236.6" rx="0.8" ry="0.6" transform="rotate(94 197.4 236.6)"/><ellipse cx="236.3" cy="237.4" rx="3.4" ry="2.1" transform="rotate(22 236.3 237.4)"/><ellipse cx="275.8" cy="238.1" rx="1.4" ry="1.2" transform="rotate(25 275.8 238.1)"/><ellipse cx="315.6" cy="238.2" rx="0.8" ry="0.6" transform="rotate(30 315.6 238.2)"/><ellipse cx="354.0" cy="238.2" rx="2.5" ry="2.2" transform="rotate(95 354.0 238.2)"/><ellipse cx="393.4" cy="238.3" rx="3.0" ry="2.2" transform="rotate(60 393.4 238.3)"/><ellipse cx="431.9" cy="237.4" rx="3.7" ry="2.7" transform="rotate(153 431.9 237.4)"/><ellipse cx="472.4" cy="237.1" rx="3.7" ry="2.2" transform="rotate(76 472.4 237.1)"/><ellipse cx="510.4" cy="236.6" rx="2.1" ry="1.9" transform="rotate(91 510.4 236.6)"/><ellipse cx="551.3" cy="238.1" rx="3.5" ry="2.8" transform="rotate(114 551.3 238.1)"/><ellipse cx="590.4" cy="236.9" rx="2.6" ry="2.6" transform="rotate(48 590.4 236.9)"/><ellipse cx="629.3" cy="237.2" rx="2.9" ry="2.0" transform="rotate(45 629.3 237.2)"/><ellipse cx="667.8" cy="237.5" rx="2.9" ry="2.3" transform="rotate(117 667.8 237.5)"/><ellipse cx="708.0" cy="236.6" rx="3.2" ry="2.3" transform="rotate(84 708.0 236.6)"/><ellipse cx="746.8" cy="236.8" rx="0.7" ry="0.6" transform="rotate(73 746.8 236.8)"/><ellipse cx="786.6" cy="237.7" rx="0.8" ry="0.7" transform="rotate(110 786.6 237.7)"/><ellipse cx="826.0" cy="237.3" rx="1.8" ry="1.3" transform="rotate(99 826.0 237.3)"/><ellipse cx="864.9" cy="237.5" rx="1.5" ry="1.1" transform="rotate(92 864.9 237.5)"/><ellipse cx="904.5" cy="237.3" rx="0.7" ry="0.7" transform="rotate(43 904.5 237.3)"/><ellipse cx="943.0" cy="236.5" rx="1.9" ry="1.2" transform="rotate(139 943.0 236.5)"/><ellipse cx="982.9" cy="237.8" rx="3.1" ry="2.1" transform="rotate(70 982.9 237.8)"/><ellipse cx="1021.6" cy="237.0" rx="0.7" ry="0.7" transform="rotate(133 1021.6 237.0)"/><ellipse cx="20.6" cy="257.5" rx="1.8" ry="1.3" transform="rotate(153 20.6 257.5)"/><ellipse cx="59.9" cy="257.9" rx="2.8" ry="2.1" transform="rotate(86 59.9 257.9)"/><ellipse cx="99.1" cy="257.6" rx="2.8" ry="2.8" transform="rotate(1 99.1 257.6)"/><ellipse cx="138.5" cy="258.2" rx="3.0" ry="2.0" transform="rotate(75 138.5 258.2)"/><ellipse cx="177.6" cy="257.0" rx="2.4" ry="1.9" transform="rotate(82 177.6 257.0)"/><ellipse cx="217.1" cy="258.1" rx="2.6" ry="1.9" transform="rotate(58 217.1 258.1)"/><ellipse cx="255.1" cy="257.6" rx="2.5" ry="1.7" transform="rotate(55 255.1 257.6)"/><ellipse cx="295.8" cy="258.1" rx="2.2" ry="2.2" transform="rotate(58 295.8 258.1)"/><ellipse cx="333.4" cy="256.5" rx="2.8" ry="2.4" transform="rotate(164 333.4 256.5)"/><ellipse cx="373.8" cy="258.4" rx="2.5" ry="2.2" transform="rotate(139 373.8 258.4)"/><ellipse cx="412.7" cy="257.6" rx="2.5" ry="2.1" transform="rotate(70 412.7 257.6)"/><ellipse cx="451.5" cy="257.2" rx="1.9" ry="1.4" transform="rotate(95 451.5 257.2)"/><ellipse cx="492.5" cy="257.4" rx="2.6" ry="2.0" transform="rotate(158 492.5 257.4)"/><ellipse cx="531.0" cy="258.1" rx="2.6" ry="2.3" transform="rotate(62 531.0 258.1)"/><ellipse cx="570.2" cy="256.7" rx="0.7" ry="0.7" transform="rotate(149 570.2 256.7)"/><ellipse cx="610.3" cy="257.3" rx="3.4" ry="2.7" transform="rotate(178 610.3 257.3)"/><ellipse cx="648.2" cy="256.8" rx="0.7" ry="0.6" transform="rotate(91 648.2 256.8)"/><ellipse cx="688.4" cy="256.5" rx="2.6" ry="1.9" transform="rotate(179 688.4 256.5)"/><ellipse cx="726.4" cy="257.1" rx="2.8" ry="1.8" transform="rotate(124 726.4 257.1)"/><ellipse cx="766.7" cy="257.6" rx="3.3" ry="2.6" transform="rotate(35 766.7 257.6)"/><ellipse cx="806.1" cy="257.3" rx="1.7" ry="1.3" transform="rotate(179 806.1 257.3)"/><ellipse cx="844.5" cy="256.8" rx="0.7" ry="0.6" transform="rotate(19 844.5 256.8)"/><ellipse cx="883.7" cy="256.5" rx="2.8" ry="2.0" transform="rotate(145 883.7 256.5)"/><ellipse cx="923.2" cy="257.0" rx="3.0" ry="2.7" transform="rotate(64 923.2 257.0)"/><ellipse cx="963.1" cy="257.2" rx="0.9" ry="0.6" transform="rotate(63 963.1 257.2)"/><ellipse cx="1002.4" cy="257.7" rx="0.9" ry="0.6" transform="rotate(173 1002.4 257.7)"/><ellipse cx="0.1" cy="278.3" rx="1.4" ry="1.5" transform="rotate(154 0.1 278.3)"/><ellipse cx="39.8" cy="278.4" rx="3.0" ry="2.6" transform="rotate(173 39.8 278.4)"/><ellipse cx="78.7" cy="278.3" rx="1.6" ry="1.4" transform="rotate(40 78.7 278.3)"/><ellipse cx="118.1" cy="276.9" rx="2.8" ry="1.8" transform="rotate(31 118.1 276.9)"/><ellipse cx="157.8" cy="277.3" rx="2.9" ry="2.5" transform="rotate(21 157.8 277.3)"/><ellipse cx="196.7" cy="277.0" rx="2.1" ry="1.7" transform="rotate(149 196.7 277.0)"/><ellipse cx="236.6" cy="277.2" rx="0.7" ry="0.5" transform="rotate(6 236.6 277.2)"/><ellipse cx="276.3" cy="276.8" rx="0.8" ry="0.5" transform="rotate(49 276.3 276.8)"/><ellipse cx="314.6" cy="278.0" rx="2.8" ry="2.2" transform="rotate(29 314.6 278.0)"/><ellipse cx="354.2" cy="277.0" rx="1.9" ry="1.1" transform="rotate(171 354.2 277.0)"/><ellipse cx="394.3" cy="277.7" rx="2.2" ry="2.1" transform="rotate(47 394.3 277.7)"/><ellipse cx="433.5" cy="276.8" rx="1.5" ry="1.3" transform="rotate(38 433.5 276.8)"/><ellipse cx="471.9" cy="277.9" rx="2.6" ry="1.8" transform="rotate(139 471.9 277.9)"/><ellipse cx="510.8" cy="278.3" rx="2.4" ry="1.9" transform="rotate(15 510.8 278.3)"/><ellipse cx="550.4" cy="277.6" rx="1.7" ry="1.1" transform="rotate(101 550.4 277.6)"/><ellipse cx="589.3" cy="278.0" rx="1.4" ry="1.2" transform="rotate(41 589.3 278.0)"/><ellipse cx="630.1" cy="278.3" rx="1.6" ry="1.5" transform="rotate(139 630.1 278.3)"/><ellipse cx="668.9" cy="277.3" rx="0.7" ry="0.5" transform="rotate(122 668.9 277.3)"/><ellipse cx="708.6" cy="277.3" rx="2.7" ry="2.1" transform="rotate(45 708.6 277.3)"/><ellipse cx="747.7" cy="278.0" rx="2.2" ry="1.7" transform="rotate(164 747.7 278.0)"/><ellipse cx="786.1" cy="277.3" rx="0.6" ry="0.5" transform="rotate(36 786.1 277.3)"/><ellipse cx="826.5" cy="277.7" rx="0.7" ry="0.6" transform="rotate(32 826.5 277.7)"/><ellipse cx="864.8" cy="276.6" rx="2.3" ry="1.9" transform="rotate(123 864.8 276.6)"/><ellipse cx="905.1" cy="277.8" rx="3.5" ry="2.3" transform="rotate(8 905.1 277.8)"/><ellipse cx="943.1" cy="278.4" rx="0.7" ry="0.5" transform="rotate(142 943.1 278.4)"/><ellipse cx="983.5" cy="278.2" rx="2.1" ry="2.1" transform="rotate(71 983.5 278.2)"/><ellipse cx="1023.2" cy="277.9" rx="1.4" ry="1.5" transform="rotate(76 1023.2 277.9)"/><ellipse cx="20.9" cy="289.2" rx="2.8" ry="2.0" transform="rotate(82 20.9 289.2)"/><ellipse cx="61.6" cy="287.9" rx="2.5" ry="2.3" transform="rotate(23 61.6 287.9)"/><ellipse cx="101.3" cy="289.1" rx="2.8" ry="1.8" transform="rotate(98 101.3 289.1)"/><ellipse cx="139.5" cy="288.2" rx="2.3" ry="1.7" transform="rotate(64 139.5 288.2)"/><ellipse cx="178.5" cy="288.3" rx="1.4" ry="1.4" transform="rotate(121 178.5 288.3)"/><ellipse cx="217.9" cy="289.6" rx="2.5" ry="2.3" transform="rotate(63 217.9 289.6)"/><ellipse cx="257.7" cy="289.3" rx="0.8" ry="0.6" transform="rotate(147 257.7 289.3)"/><ellipse cx="297.4" cy="289.5" rx="0.8" ry="0.6" transform="rotate(83 297.4 289.5)"/><ellipse cx="335.3" cy="288.4" rx="0.7" ry="0.6" transform="rotate(37 335.3 288.4)"/><ellipse cx="375.1" cy="288.7" rx="0.8" ry="0.6" transform="rotate(20 375.1 288.7)"/><ellipse cx="415.8" cy="289.3" rx="1.5" ry="1.1" transform="rotate(2 415.8 289.3)"/><ellipse cx="453.3" cy="288.8" rx="0.8" ry="0.7" transform="rotate(101 453.3 288.8)"/><ellipse cx="494.2" cy="289.1" rx="2.2" ry="2.0" transform="rotate(1 494.2 289.1)"/><ellipse cx="532.2" cy="288.1" rx="2.9" ry="2.1" transform="rotate(45 532.2 288.1)"/><ellipse cx="571.4" cy="289.1" rx="0.8" ry="0.7" transform="rotate(53 571.4 289.1)"/><ellipse cx="612.0" cy="289.3" rx="3.7" ry="2.2" transform="rotate(141 612.0 289.3)"/><ellipse cx="650.3" cy="288.9" rx="1.5" ry="1.4" transform="rotate(58 650.3 288.9)"/><ellipse cx="690.0" cy="289.1" rx="1.8" ry="1.2" transform="rotate(7 690.0 289.1)"/><ellipse cx="729.2" cy="288.8" rx="3.4" ry="2.8" transform="rotate(170 729.2 288.8)"/><ellipse cx="768.9" cy="288.1" rx="0.7" ry="0.6" transform="rotate(14 768.9 288.1)"/><ellipse cx="807.7" cy="288.2" rx="3.0" ry="1.7" transform="rotate(7 807.7 288.2)"/><ellipse cx="847.7" cy="288.7" rx="2.1" ry="2.2" transform="rotate(154 847.7 288.7)"/><ellipse cx="886.1" cy="288.7" rx="1.7" ry="1.3" transform="rotate(76 886.1 288.7)"/><ellipse cx="925.3" cy="288.7" rx="2.8" ry="2.2" transform="rotate(30 925.3 288.7)"/><ellipse cx="964.6" cy="288.7" rx="2.4" ry="1.7" transform="rotate(15 964.6 288.7)"/><ellipse cx="1005.2" cy="289.0" rx="3.7" ry="2.8" transform="rotate(175 1005.2 289.0)"/><ellipse cx="2.6" cy="309.0" rx="2.7" ry="2.6" transform="rotate(110 2.6 309.0)"/><ellipse cx="42.0" cy="309.7" rx="3.2" ry="2.6" transform="rotate(54 42.0 309.7)"/><ellipse cx="80.8" cy="309.2" rx="0.7" ry="0.6" transform="rotate(81 80.8 309.2)"/><ellipse cx="121.0" cy="308.7" rx="1.7" ry="1.2" transform="rotate(95 121.0 308.7)"/><ellipse cx="159.4" cy="309.6" rx="0.7" ry="0.7" transform="rotate(99 159.4 309.6)"/><ellipse cx="199.5" cy="309.0" rx="1.4" ry="1.3" transform="rotate(45 199.5 309.0)"/><ellipse cx="239.0" cy="308.1" rx="1.7" ry="1.1" transform="rotate(92 239.0 308.1)"/><ellipse cx="278.2" cy="309.3" rx="2.1" ry="1.9" transform="rotate(155 278.2 309.3)"/><ellipse cx="316.6" cy="309.6" rx="2.7" ry="2.9" transform="rotate(130 316.6 309.6)"/><ellipse cx="357.2" cy="308.2" rx="2.2" ry="2.3" transform="rotate(101 357.2 308.2)"/><ellipse cx="395.0" cy="309.1" rx="2.7" ry="2.2" transform="rotate(67 395.0 309.1)"/><ellipse cx="436.1" cy="309.1" rx="1.5" ry="1.4" transform="rotate(77 436.1 309.1)"/><ellipse cx="473.9" cy="309.4" rx="3.3" ry="2.8" transform="rotate(157 473.9 309.4)"/><ellipse cx="513.1" cy="308.6" rx="1.8" ry="1.4" transform="rotate(149 513.1 308.6)"/><ellipse cx="553.4" cy="308.1" rx="2.9" ry="2.1" transform="rotate(8 553.4 308.1)"/><ellipse cx="592.9" cy="308.4" rx="2.8" ry="1.7" transform="rotate(167 592.9 308.4)"/><ellipse cx="631.0" cy="307.9" rx="0.8" ry="0.7" transform="rotate(105 631.0 307.9)"/><ellipse cx="670.7" cy="309.3" rx="0.9" ry="0.5" transform="rotate(100 670.7 309.3)"/><ellipse cx="710.8" cy="309.5" rx="2.2" ry="2.2" transform="rotate(97 710.8 309.5)"/><ellipse cx="749.7" cy="309.6" rx="2.6" ry="2.3" transform="rotate(27 749.7 309.6)"/><ellipse cx="789.4" cy="308.7" rx="2.7" ry="2.2" transform="rotate(147 789.4 308.7)"/><ellipse cx="829.0" cy="309.1" rx="2.2" ry="2.2" transform="rotate(71 829.0 309.1)"/><ellipse cx="867.8" cy="308.0" rx="0.7" ry="0.5" transform="rotate(161 867.8 308.0)"/><ellipse cx="906.7" cy="308.6" rx="0.7" ry="0.6" transform="rotate(104 906.7 308.6)"/><ellipse cx="946.1" cy="309.9" rx="0.8" ry="0.6" transform="rotate(4 946.1 309.9)"/><ellipse cx="985.0" cy="308.9" rx="0.7" ry="0.6" transform="rotate(49 985.0 308.9)"/><ellipse cx="1025.8" cy="308.0" rx="1.7" ry="1.3" transform="rotate(172 1025.8 308.0)"/><ellipse cx="22.1" cy="329.3" rx="2.8" ry="2.2" transform="rotate(139 22.1 329.3)"/><ellipse cx="62.0" cy="329.4" rx="1.5" ry="1.4" transform="rotate(157 62.0 329.4)"/><ellipse cx="100.7" cy="328.7" rx="1.8" ry="1.4" transform="rotate(92 100.7 328.7)"/><ellipse cx="139.3" cy="330.0" rx="2.4" ry="1.7" transform="rotate(61 139.3 330.0)"/><ellipse cx="178.7" cy="328.3" rx="2.4" ry="1.8" transform="rotate(42 178.7 328.3)"/><ellipse cx="218.4" cy="328.6" rx="0.9" ry="0.6" transform="rotate(80 218.4 328.6)"/><ellipse cx="258.1" cy="329.1" rx="0.6" ry="0.6" transform="rotate(56 258.1 329.1)"/><ellipse cx="296.1" cy="328.4" rx="3.0" ry="2.8" transform="rotate(105 296.1 328.4)"/><ellipse cx="336.1" cy="329.7" rx="3.0" ry="1.9" transform="rotate(139 336.1 329.7)"/><ellipse cx="375.0" cy="328.0" rx="0.8" ry="0.7" transform="rotate(50 375.0 328.0)"/><ellipse cx="414.6" cy="328.4" rx="0.7" ry="0.6" transform="rotate(39 414.6 328.4)"/><ellipse cx="454.6" cy="329.9" rx="2.9" ry="2.1" transform="rotate(35 454.6 329.9)"/><ellipse cx="493.1" cy="328.3" rx="2.1" ry="2.2" transform="rotate(158 493.1 328.3)"/><ellipse cx="533.5" cy="328.4" rx="0.8" ry="0.7" transform="rotate(115 533.5 328.4)"/><ellipse cx="572.4" cy="328.7" rx="1.8" ry="1.3" transform="rotate(73 572.4 328.7)"/><ellipse cx="611.0" cy="329.0" rx="0.7" ry="0.5" transform="rotate(113 611.0 329.0)"/><ellipse cx="651.5" cy="329.1" rx="2.3" ry="1.9" transform="rotate(2 651.5 329.1)"/><ellipse cx="689.6" cy="328.2" rx="2.7" ry="2.6" transform="rotate(130 689.6 328.2)"/><ellipse cx="729.8" cy="328.8" rx="0.7" ry="0.7" transform="rotate(16 729.8 328.8)"/><ellipse cx="768.7" cy="328.7" rx="2.6" ry="2.0" transform="rotate(118 768.7 328.7)"/><ellipse cx="808.4" cy="328.6" rx="2.3" ry="2.1" transform="rotate(137 808.4 328.6)"/><ellipse cx="847.1" cy="329.9" rx="3.7" ry="2.4" transform="rotate(50 847.1 329.9)"/><ellipse cx="886.9" cy="328.7" rx="0.6" ry="0.6" transform="rotate(118 886.9 328.7)"/><ellipse cx="924.8" cy="328.3" rx="2.9" ry="2.7" transform="rotate(16 924.8 328.3)"/><ellipse cx="965.9" cy="328.7" rx="0.8" ry="0.6" transform="rotate(33 965.9 328.7)"/><ellipse cx="1003.6" cy="328.1" rx="0.7" ry="0.6" transform="rotate(166 1003.6 328.1)"/><ellipse cx="3.3" cy="348.8" rx="2.9" ry="2.9" transform="rotate(90 3.3 348.8)"/><ellipse cx="41.5" cy="349.6" rx="3.1" ry="2.3" transform="rotate(163 41.5 349.6)"/><ellipse cx="80.7" cy="349.2" rx="0.8" ry="0.6" transform="rotate(156 80.7 349.2)"/><ellipse cx="120.3" cy="348.6" rx="2.9" ry="2.3" transform="rotate(113 120.3 348.6)"/><ellipse cx="160.7" cy="349.4" rx="1.6" ry="1.2" transform="rotate(37 160.7 349.4)"/><ellipse cx="198.8" cy="349.8" rx="1.9" ry="1.1" transform="rotate(103 198.8 349.8)"/><ellipse cx="238.4" cy="348.8" rx="2.9" ry="2.7" transform="rotate(148 238.4 348.8)"/><ellipse cx="278.3" cy="349.0" rx="2.9" ry="1.7" transform="rotate(123 278.3 349.0)"/><ellipse cx="317.1" cy="349.7" rx="2.9" ry="1.8" transform="rotate(159 317.1 349.7)"/><ellipse cx="356.3" cy="348.1" rx="2.8" ry="2.8" transform="rotate(179 356.3 348.1)"/><ellipse cx="395.3" cy="349.6" rx="0.9" ry="0.5" transform="rotate(164 395.3 349.6)"/><ellipse cx="435.0" cy="349.9" rx="0.7" ry="0.6" transform="rotate(16 435.0 349.9)"/><ellipse cx="474.1" cy="349.7" rx="2.9" ry="2.3" transform="rotate(6 474.1 349.7)"/><ellipse cx="513.8" cy="348.3" rx="2.1" ry="2.0" transform="rotate(42 513.8 348.3)"/><ellipse cx="552.4" cy="349.1" rx="0.9" ry="0.6" transform="rotate(158 552.4 349.1)"/><ellipse cx="591.8" cy="349.6" rx="0.7" ry="0.5" transform="rotate(123 591.8 349.6)"/><ellipse cx="632.6" cy="348.8" rx="2.2" ry="1.9" transform="rotate(89 632.6 348.8)"/><ellipse cx="670.6" cy="348.5" rx="1.9" ry="1.4" transform="rotate(132 670.6 348.5)"/><ellipse cx="710.2" cy="349.2" rx="1.4" ry="1.1" transform="rotate(92 710.2 349.2)"/><ellipse cx="749.8" cy="349.2" rx="1.4" ry="1.4" transform="rotate(118 749.8 349.2)"/><ellipse cx="788.8" cy="348.7" rx="3.0" ry="2.2" transform="rotate(129 788.8 348.7)"/><ellipse cx="828.1" cy="348.4" rx="3.0" ry="1.9" transform="rotate(69 828.1 348.4)"/><ellipse cx="867.1" cy="349.3" rx="2.6" ry="2.6" transform="rotate(167 867.1 349.3)"/><ellipse cx="907.6" cy="349.7" rx="1.5" ry="1.1" transform="rotate(21 907.6 349.7)"/><ellipse cx="946.5" cy="349.2" rx="2.7" ry="2.6" transform="rotate(58 946.5 349.2)"/><ellipse cx="986.2" cy="349.1" rx="1.9" ry="1.1" transform="rotate(134 986.2 349.1)"/><ellipse cx="1025.3" cy="348.9" rx="3.0" ry="1.8" transform="rotate(113 1025.3 348.9)"/><ellipse cx="22.2" cy="368.8" rx="2.4" ry="2.0" transform="rotate(110 22.2 368.8)"/><ellipse cx="60.6" cy="370.0" rx="2.6" ry="1.8" transform="rotate(110 60.6 370.0)"/><ellipse cx="99.8" cy="368.5" rx="2.7" ry="2.0" transform="rotate(86 99.8 368.5)"/><ellipse cx="140.3" cy="368.7" rx="3.2" ry="2.5" transform="rotate(95 140.3 368.7)"/><ellipse cx="179.7" cy="370.0" rx="0.9" ry="0.6" transform="rotate(115 179.7 370.0)"/><ellipse cx="218.9" cy="368.4" rx="2.7" ry="2.4" transform="rotate(150 218.9 368.4)"/><ellipse cx="258.2" cy="369.2" rx="0.7" ry="0.5" transform="rotate(64 258.2 369.2)"/><ellipse cx="297.3" cy="369.1" rx="2.2" ry="1.9" transform="rotate(179 297.3 369.1)"/><ellipse cx="336.6" cy="368.9" rx="2.8" ry="2.1" transform="rotate(27 336.6 368.9)"/><ellipse cx="375.3" cy="368.2" rx="2.3" ry="1.9" transform="rotate(61 375.3 368.2)"/><ellipse cx="415.2" cy="368.7" rx="1.7" ry="1.1" transform="rotate(32 415.2 368.7)"/><ellipse cx="454.4" cy="369.9" rx="1.5" ry="1.4" transform="rotate(16 454.4 369.9)"/><ellipse cx="493.1" cy="368.3" rx="1.6" ry="1.4" transform="rotate(111 493.1 368.3)"/><ellipse cx="532.5" cy="369.5" rx="2.4" ry="2.1" transform="rotate(53 532.5 369.5)"/><ellipse cx="572.8" cy="368.6" rx="3.0" ry="2.4" transform="rotate(104 572.8 368.6)"/><ellipse cx="611.0" cy="368.3" rx="3.4" ry="2.4" transform="rotate(120 611.0 368.3)"/><ellipse cx="651.4" cy="369.7" rx="3.1" ry="2.5" transform="rotate(89 651.4 369.7)"/><ellipse cx="690.6" cy="369.0" rx="0.8" ry="0.6" transform="rotate(83 690.6 369.0)"/><ellipse cx="729.2" cy="369.8" rx="2.9" ry="1.9" transform="rotate(88 729.2 369.8)"/><ellipse cx="768.9" cy="369.3" rx="2.8" ry="1.9" transform="rotate(7 768.9 369.3)"/><ellipse cx="807.0" cy="369.8" rx="3.5" ry="2.1" transform="rotate(40 807.0 369.8)"/><ellipse cx="846.2" cy="369.6" rx="0.7" ry="0.6" transform="rotate(102 846.2 369.6)"/><ellipse cx="886.2" cy="369.4" rx="2.5" ry="1.6" transform="rotate(124 886.2 369.4)"/><ellipse cx="925.4" cy="369.2" rx="3.6" ry="2.8" transform="rotate(26 925.4 369.2)"/><ellipse cx="964.6" cy="368.7" rx="0.9" ry="0.5" transform="rotate(47 964.6 368.7)"/><ellipse cx="1003.4" cy="368.8" rx="3.3" ry="2.5" transform="rotate(76 1003.4 368.8)"/><ellipse cx="2.4" cy="388.4" rx="3.5" ry="2.8" transform="rotate(46 2.4 388.4)"/><ellipse cx="42.5" cy="389.0" rx="2.4" ry="1.9" transform="rotate(88 42.5 389.0)"/><ellipse cx="80.7" cy="388.9" rx="2.8" ry="2.8" transform="rotate(100 80.7 388.9)"/><ellipse cx="120.4" cy="389.9" rx="2.4" ry="2.0" transform="rotate(58 120.4 389.9)"/><ellipse cx="160.1" cy="390.2" rx="1.8" ry="1.4" transform="rotate(107 160.1 390.2)"/><ellipse cx="199.8" cy="388.4" rx="2.9" ry="1.6" transform="rotate(78 199.8 388.4)"/><ellipse cx="239.6" cy="389.4" rx="2.7" ry="2.5" transform="rotate(32 239.6 389.4)"/><ellipse cx="277.7" cy="388.7" rx="3.2" ry="2.6" transform="rotate(121 277.7 388.7)"/><ellipse cx="316.6" cy="388.5" rx="2.8" ry="2.8" transform="rotate(37 316.6 388.5)"/><ellipse cx="356.2" cy="390.1" rx="3.7" ry="2.4" transform="rotate(119 356.2 390.1)"/><ellipse cx="395.1" cy="390.0" rx="2.2" ry="1.6" transform="rotate(125 395.1 390.0)"/><ellipse cx="435.4" cy="388.6" rx="1.5" ry="1.3" transform="rotate(57 435.4 388.6)"/><ellipse cx="475.2" cy="390.3" rx="3.0" ry="2.8" transform="rotate(27 475.2 390.3)"/><ellipse cx="513.3" cy="389.4" rx="2.1" ry="1.9" transform="rotate(115 513.3 389.4)"/><ellipse cx="553.6" cy="388.5" rx="0.8" ry="0.6" transform="rotate(77 553.6 388.5)"/><ellipse cx="593.4" cy="389.4" rx="2.8" ry="2.8" transform="rotate(179 593.4 389.4)"/><ellipse cx="632.7" cy="388.5" rx="1.6" ry="1.4" transform="rotate(89 632.7 388.5)"/><ellipse cx="670.3" cy="388.6" rx="2.9" ry="2.0" transform="rotate(97 670.3 388.6)"/><ellipse cx="711.2" cy="388.4" rx="1.9" ry="1.4" transform="rotate(41 711.2 388.4)"/><ellipse cx="750.0" cy="388.4" rx="3.0" ry="1.8" transform="rotate(170 750.0 388.4)"/><ellipse cx="788.4" cy="389.9" rx="1.6" ry="1.2" transform="rotate(134 788.4 389.9)"/><ellipse cx="828.4" cy="389.9" rx="1.4" ry="1.3" transform="rotate(17 828.4 389.9)"/><ellipse cx="866.8" cy="389.6" rx="2.5" ry="1.6" transform="rotate(92 866.8 389.6)"/><ellipse cx="907.2" cy="388.6" rx="0.8" ry="0.6" transform="rotate(67 907.2 388.6)"/><ellipse cx="946.9" cy="389.3" rx="0.9" ry="0.6" transform="rotate(152 946.9 389.3)"/><ellipse cx="985.5" cy="389.4" rx="0.7" ry="0.7" transform="rotate(21 985.5 389.4)"/><ellipse cx="1024.8" cy="389.0" rx="0.8" ry="0.5" transform="rotate(96 1024.8 389.0)"/><ellipse cx="21.3" cy="410.1" rx="0.7" ry="0.5" transform="rotate(23 21.3 410.1)"/><ellipse cx="61.1" cy="410.0" rx="2.9" ry="1.6" transform="rotate(170 61.1 410.0)"/><ellipse cx="99.7" cy="408.9" rx="2.7" ry="1.8" transform="rotate(135 99.7 408.9)"/><ellipse cx="140.5" cy="408.6" rx="0.7" ry="0.6" transform="rotate(53 140.5 408.6)"/><ellipse cx="179.4" cy="408.5" rx="2.3" ry="2.0" transform="rotate(141 179.4 408.5)"/><ellipse cx="218.5" cy="409.8" rx="1.7" ry="1.5" transform="rotate(7 218.5 409.8)"/><ellipse cx="258.4" cy="408.4" rx="3.0" ry="2.7" transform="rotate(83 258.4 408.4)"/><ellipse cx="296.4" cy="409.9" rx="3.1" ry="2.4" transform="rotate(16 296.4 409.9)"/><ellipse cx="335.6" cy="408.8" rx="2.2" ry="1.8" transform="rotate(25 335.6 408.8)"/><ellipse cx="375.5" cy="409.4" rx="1.9" ry="1.5" transform="rotate(142 375.5 409.4)"/><ellipse cx="414.2" cy="409.7" rx="3.7" ry="2.7" transform="rotate(115 414.2 409.7)"/><ellipse cx="453.8" cy="408.7" rx="3.5" ry="2.1" transform="rotate(129 453.8 408.7)"/><ellipse cx="494.1" cy="410.3" rx="3.4" ry="2.7" transform="rotate(24 494.1 410.3)"/><ellipse cx="532.9" cy="409.3" rx="3.5" ry="2.8" transform="rotate(144 532.9 409.3)"/><ellipse cx="572.9" cy="409.5" rx="3.5" ry="2.8" transform="rotate(54 572.9 409.5)"/><ellipse cx="610.8" cy="410.1" rx="2.7" ry="2.9" transform="rotate(142 610.8 410.1)"/><ellipse cx="650.6" cy="410.2" rx="1.5" ry="1.3" transform="rotate(43 650.6 410.2)"/><ellipse cx="690.5" cy="409.8" rx="2.7" ry="1.9" transform="rotate(141 690.5 409.8)"/><ellipse cx="729.5" cy="410.1" rx="3.6" ry="2.4" transform="rotate(16 729.5 410.1)"/><ellipse cx="767.5" cy="409.4" rx="1.7" ry="1.4" transform="rotate(143 767.5 409.4)"/><ellipse cx="808.0" cy="409.3" rx="0.7" ry="0.7" transform="rotate(75 808.0 409.3)"/><ellipse cx="847.3" cy="409.0" rx="1.5" ry="1.2" transform="rotate(152 847.3 409.0)"/><ellipse cx="886.7" cy="410.0" rx="0.7" ry="0.6" transform="rotate(80 886.7 410.0)"/><ellipse cx="925.1" cy="408.9" rx="0.8" ry="0.5" transform="rotate(148 925.1 408.9)"/><ellipse cx="965.2" cy="410.2" rx="3.0" ry="2.2" transform="rotate(160 965.2 410.2)"/><ellipse cx="1005.3" cy="408.8" rx="2.5" ry="2.3" transform="rotate(91 1005.3 408.8)"/><ellipse cx="2.4" cy="430.4" rx="2.8" ry="2.5" transform="rotate(0 2.4 430.4)"/><ellipse cx="41.5" cy="429.6" rx="2.8" ry="1.8" transform="rotate(63 41.5 429.6)"/><ellipse cx="82.4" cy="429.8" rx="3.2" ry="2.4" transform="rotate(167 82.4 429.8)"/><ellipse cx="120.6" cy="429.8" rx="0.8" ry="0.6" transform="rotate(172 120.6 429.8)"/><ellipse cx="161.0" cy="429.5" rx="2.4" ry="2.0" transform="rotate(122 161.0 429.5)"/><ellipse cx="199.9" cy="429.6" rx="1.9" ry="1.1" transform="rotate(150 199.9 429.6)"/><ellipse cx="239.3" cy="428.6" rx="2.8" ry="2.2" transform="rotate(131 239.3 428.6)"/><ellipse cx="277.4" cy="429.7" rx="1.4" ry="1.5" transform="rotate(160 277.4 429.7)"/><ellipse cx="317.7" cy="429.1" rx="2.1" ry="1.9" transform="rotate(135 317.7 429.1)"/><ellipse cx="357.7" cy="429.8" rx="2.9" ry="2.5" transform="rotate(76 357.7 429.8)"/><ellipse cx="396.4" cy="429.9" rx="3.4" ry="2.4" transform="rotate(173 396.4 429.9)"/><ellipse cx="435.9" cy="429.2" rx="1.4" ry="1.3" transform="rotate(149 435.9 429.2)"/><ellipse cx="475.1" cy="428.8" rx="0.8" ry="0.7" transform="rotate(29 475.1 428.8)"/><ellipse cx="514.8" cy="430.4" rx="1.4" ry="1.2" transform="rotate(69 514.8 430.4)"/><ellipse cx="552.8" cy="429.4" rx="0.7" ry="0.7" transform="rotate(36 552.8 429.4)"/><ellipse cx="593.4" cy="429.0" rx="0.7" ry="0.6" transform="rotate(69 593.4 429.0)"/><ellipse cx="632.1" cy="430.1" rx="1.9" ry="1.3" transform="rotate(151 632.1 430.1)"/><ellipse cx="671.2" cy="429.8" rx="1.4" ry="1.4" transform="rotate(85 671.2 429.8)"/><ellipse cx="710.5" cy="429.1" rx="2.9" ry="2.3" transform="rotate(165 710.5 429.1)"/><ellipse cx="750.4" cy="429.6" rx="2.3" ry="2.1" transform="rotate(7 750.4 429.6)"/><ellipse cx="788.1" cy="429.6" rx="1.9" ry="1.2" transform="rotate(44 788.1 429.6)"/><ellipse cx="827.5" cy="429.1" rx="3.4" ry="2.4" transform="rotate(145 827.5 429.1)"/><ellipse cx="868.1" cy="429.3" rx="3.0" ry="2.0" transform="rotate(125 868.1 429.3)"/><ellipse cx="907.5" cy="429.2" rx="3.5" ry="2.3" transform="rotate(71 907.5 429.2)"/><ellipse cx="946.5" cy="430.3" rx="0.9" ry="0.6" transform="rotate(94 946.5 430.3)"/><ellipse cx="985.5" cy="430.2" rx="0.7" ry="0.5" transform="rotate(74 985.5 430.2)"/><ellipse cx="1024.3" cy="430.2" rx="2.6" ry="1.9" transform="rotate(103 1024.3 430.2)"/><ellipse cx="22.3" cy="449.6" rx="3.6" ry="2.2" transform="rotate(121 22.3 449.6)"/><ellipse cx="61.4" cy="450.4" rx="3.7" ry="2.7" transform="rotate(148 61.4 450.4)"/><ellipse cx="100.0" cy="448.7" rx="0.8" ry="0.6" transform="rotate(110 100.0 448.7)"/><ellipse cx="139.1" cy="448.8" rx="2.8" ry="1.8" transform="rotate(38 139.1 448.8)"/><ellipse cx="179.4" cy="448.7" rx="3.0" ry="2.2" transform="rotate(65 179.4 448.7)"/><ellipse cx="217.6" cy="449.2" rx="3.0" ry="2.0" transform="rotate(113 217.6 449.2)"/><ellipse cx="256.7" cy="450.3" rx="0.8" ry="0.6" transform="rotate(145 256.7 450.3)"/><ellipse cx="296.6" cy="449.7" rx="0.7" ry="0.6" transform="rotate(61 296.6 449.7)"/><ellipse cx="336.8" cy="449.7" rx="1.8" ry="1.1" transform="rotate(151 336.8 449.7)"/><ellipse cx="375.3" cy="448.7" rx="0.8" ry="0.5" transform="rotate(91 375.3 448.7)"/><ellipse cx="414.8" cy="449.8" rx="2.7" ry="2.0" transform="rotate(72 414.8 449.8)"/><ellipse cx="455.0" cy="449.3" rx="1.9" ry="1.5" transform="rotate(145 455.0 449.3)"/><ellipse cx="493.3" cy="450.0" rx="2.7" ry="2.4" transform="rotate(24 493.3 450.0)"/><ellipse cx="532.5" cy="449.2" rx="2.5" ry="1.8" transform="rotate(34 532.5 449.2)"/><ellipse cx="571.4" cy="450.0" rx="0.8" ry="0.6" transform="rotate(79 571.4 450.0)"/><ellipse cx="612.2" cy="450.1" rx="0.7" ry="0.6" transform="rotate(126 612.2 450.1)"/><ellipse cx="649.7" cy="449.0" rx="3.7" ry="2.7" transform="rotate(130 649.7 449.0)"/><ellipse cx="689.4" cy="449.3" rx="0.9" ry="0.6" transform="rotate(113 689.4 449.3)"/><ellipse cx="728.3" cy="449.0" rx="0.8" ry="0.7" transform="rotate(55 728.3 449.0)"/><ellipse cx="767.7" cy="448.8" rx="1.9" ry="1.4" transform="rotate(82 767.7 448.8)"/><ellipse cx="808.6" cy="450.2" rx="0.8" ry="0.6" transform="rotate(178 808.6 450.2)"/><ellipse cx="847.2" cy="449.6" rx="2.8" ry="1.7" transform="rotate(20 847.2 449.6)"/><ellipse cx="886.8" cy="450.5" rx="1.5" ry="1.1" transform="rotate(164 886.8 450.5)"/><ellipse cx="926.3" cy="450.3" rx="3.1" ry="2.7" transform="rotate(69 926.3 450.3)"/><ellipse cx="964.8" cy="448.6" rx="0.6" ry="0.5" transform="rotate(105 964.8 448.6)"/><ellipse cx="1005.1" cy="449.7" rx="3.5" ry="2.4" transform="rotate(8 1005.1 449.7)"/><ellipse cx="3.0" cy="470.0" rx="0.7" ry="0.6" transform="rotate(159 3.0 470.0)"/><ellipse cx="41.5" cy="469.9" rx="1.5" ry="1.5" transform="rotate(69 41.5 469.9)"/><ellipse cx="81.9" cy="470.1" rx="0.7" ry="0.6" transform="rotate(105 81.9 470.1)"/><ellipse cx="120.8" cy="469.5" rx="2.1" ry="2.1" transform="rotate(10 120.8 469.5)"/><ellipse cx="160.6" cy="469.6" rx="2.7" ry="1.8" transform="rotate(117 160.6 469.6)"/><ellipse cx="199.0" cy="470.7" rx="0.9" ry="0.6" transform="rotate(11 199.0 470.7)"/><ellipse cx="239.1" cy="470.2" rx="1.6" ry="1.4" transform="rotate(148 239.1 470.2)"/><ellipse cx="277.2" cy="468.8" rx="0.7" ry="0.7" transform="rotate(144 277.2 468.8)"/><ellipse cx="318.3" cy="470.0" rx="1.9" ry="1.1" transform="rotate(121 318.3 470.0)"/><ellipse cx="357.2" cy="468.9" rx="2.9" ry="2.2" transform="rotate(3 357.2 468.9)"/><ellipse cx="395.3" cy="469.7" rx="3.4" ry="2.2" transform="rotate(145 395.3 469.7)"/><ellipse cx="434.3" cy="470.4" rx="0.9" ry="0.7" transform="rotate(165 434.3 470.4)"/><ellipse cx="474.8" cy="470.3" rx="2.8" ry="2.0" transform="rotate(112 474.8 470.3)"/><ellipse cx="513.7" cy="468.7" rx="0.6" ry="0.6" transform="rotate(52 513.7 468.7)"/><ellipse cx="553.1" cy="468.9" rx="2.1" ry="2.2" transform="rotate(146 553.1 468.9)"/><ellipse cx="593.5" cy="469.8" rx="2.3" ry="1.9" transform="rotate(20 593.5 469.8)"/><ellipse cx="632.5" cy="468.9" rx="1.4" ry="1.4" transform="rotate(153 632.5 468.9)"/><ellipse cx="671.3" cy="470.7" rx="1.5" ry="1.4" transform="rotate(27 671.3 470.7)"/><ellipse cx="710.8" cy="469.9" rx="2.6" ry="2.1" transform="rotate(20 710.8 469.9)"/><ellipse cx="750.0" cy="470.5" rx="2.5" ry="1.9" transform="rotate(110 750.0 470.5)"/><ellipse cx="789.4" cy="468.8" rx="2.8" ry="2.2" transform="rotate(151 789.4 468.8)"/><ellipse cx="827.7" cy="470.6" rx="2.9" ry="1.9" transform="rotate(158 827.7 470.6)"/><ellipse cx="867.3" cy="469.3" rx="2.7" ry="1.8" transform="rotate(54 867.3 469.3)"/><ellipse cx="907.8" cy="470.2" rx="0.8" ry="0.7" transform="rotate(118 907.8 470.2)"/><ellipse cx="945.7" cy="469.5" rx="3.8" ry="2.7" transform="rotate(49 945.7 469.5)"/><ellipse cx="985.2" cy="470.2" rx="0.7" ry="0.7" transform="rotate(166 985.2 470.2)"/><ellipse cx="1024.0" cy="470.4" rx="3.6" ry="2.7" transform="rotate(96 1024.0 470.4)"/><ellipse cx="22.7" cy="489.1" rx="1.7" ry="1.2" transform="rotate(97 22.7 489.1)"/><ellipse cx="60.9" cy="490.6" rx="2.7" ry="2.0" transform="rotate(169 60.9 490.6)"/><ellipse cx="100.0" cy="490.6" rx="3.0" ry="1.7" transform="rotate(38 100.0 490.6)"/><ellipse cx="139.1" cy="489.7" rx="0.7" ry="0.6" transform="rotate(178 139.1 489.7)"/><ellipse cx="178.5" cy="489.3" rx="2.7" ry="2.1" transform="rotate(136 178.5 489.3)"/><ellipse cx="219.2" cy="490.1" rx="0.8" ry="0.5" transform="rotate(47 219.2 490.1)"/><ellipse cx="257.2" cy="488.9" rx="2.7" ry="2.0" transform="rotate(125 257.2 488.9)"/><ellipse cx="296.1" cy="489.8" rx="0.6" ry="0.6" transform="rotate(26 296.1 489.8)"/><ellipse cx="335.6" cy="489.0" rx="3.4" ry="2.3" transform="rotate(138 335.6 489.0)"/><ellipse cx="376.0" cy="489.0" rx="1.6" ry="1.4" transform="rotate(80 376.0 489.0)"/><ellipse cx="415.5" cy="489.3" rx="3.0" ry="2.8" transform="rotate(6 415.5 489.3)"/><ellipse cx="453.1" cy="489.2" rx="3.5" ry="2.6" transform="rotate(50 453.1 489.2)"/><ellipse cx="493.7" cy="489.2" rx="2.8" ry="2.6" transform="rotate(106 493.7 489.2)"/><ellipse cx="533.0" cy="489.9" rx="0.7" ry="0.7" transform="rotate(69 533.0 489.9)"/><ellipse cx="571.3" cy="490.7" rx="1.4" ry="1.1" transform="rotate(153 571.3 490.7)"/><ellipse cx="610.8" cy="489.5" rx="1.8" ry="1.1" transform="rotate(142 610.8 489.5)"/><ellipse cx="650.2" cy="489.6" rx="2.2" ry="1.8" transform="rotate(143 650.2 489.6)"/><ellipse cx="689.7" cy="489.5" rx="2.9" ry="2.2" transform="rotate(39 689.7 489.5)"/><ellipse cx="729.5" cy="490.5" rx="2.5" ry="2.2" transform="rotate(9 729.5 490.5)"/><ellipse cx="768.4" cy="490.2" rx="1.4" ry="1.2" transform="rotate(21 768.4 490.2)"/><ellipse cx="807.3" cy="489.7" rx="0.7" ry="0.6" transform="rotate(31 807.3 489.7)"/><ellipse cx="848.0" cy="489.9" rx="0.6" ry="0.6" transform="rotate(84 848.0 489.9)"/><ellipse cx="887.1" cy="490.7" rx="0.7" ry="0.6" transform="rotate(101 887.1 490.7)"/><ellipse cx="925.2" cy="489.1" rx="2.7" ry="2.9" transform="rotate(94 925.2 489.1)"/><ellipse cx="965.8" cy="489.7" rx="2.9" ry="2.1" transform="rotate(48 965.8 489.7)"/><ellipse cx="1003.7" cy="490.1" rx="2.1" ry="1.9" transform="rotate(57 1003.7 490.1)"/><ellipse cx="2.4" cy="508.9" rx="1.4" ry="1.5" transform="rotate(87 2.4 508.9)"/><ellipse cx="42.8" cy="510.0" rx="2.5" ry="1.6" transform="rotate(85 42.8 510.0)"/><ellipse cx="80.9" cy="510.5" rx="1.6" ry="1.3" transform="rotate(117 80.9 510.5)"/><ellipse cx="121.7" cy="509.3" rx="3.5" ry="2.8" transform="rotate(66 121.7 509.3)"/><ellipse cx="159.6" cy="509.0" rx="1.7" ry="1.5" transform="rotate(15 159.6 509.0)"/><ellipse cx="199.7" cy="510.8" rx="2.2" ry="1.7" transform="rotate(135 199.7 510.8)"/><ellipse cx="238.3" cy="509.9" rx="2.7" ry="1.6" transform="rotate(171 238.3 509.9)"/><ellipse cx="278.3" cy="509.3" rx="2.9" ry="1.9" transform="rotate(179 278.3 509.3)"/><ellipse cx="316.9" cy="510.8" rx="2.8" ry="2.9" transform="rotate(82 316.9 510.8)"/><ellipse cx="355.7" cy="509.6" rx="1.6" ry="1.2" transform="rotate(120 355.7 509.6)"/><ellipse cx="395.5" cy="509.8" rx="0.9" ry="0.5" transform="rotate(109 395.5 509.8)"/><ellipse cx="434.5" cy="510.8" rx="2.7" ry="1.7" transform="rotate(43 434.5 510.8)"/><ellipse cx="475.4" cy="509.0" rx="0.7" ry="0.6" transform="rotate(105 475.4 509.0)"/><ellipse cx="513.7" cy="510.7" rx="1.5" ry="1.3" transform="rotate(81 513.7 510.7)"/><ellipse cx="554.1" cy="509.7" rx="2.9" ry="2.3" transform="rotate(48 554.1 509.7)"/><ellipse cx="592.1" cy="509.5" rx="0.9" ry="0.5" transform="rotate(3 592.1 509.5)"/><ellipse cx="632.5" cy="510.5" rx="3.6" ry="2.4" transform="rotate(95 632.5 510.5)"/><ellipse cx="671.4" cy="510.1" rx="2.5" ry="1.7" transform="rotate(44 671.4 510.1)"/><ellipse cx="709.6" cy="510.7" rx="3.7" ry="2.9" transform="rotate(35 709.6 510.7)"/><ellipse cx="749.2" cy="509.6" rx="2.2" ry="2.1" transform="rotate(46 749.2 509.6)"/><ellipse cx="789.2" cy="509.8" rx="2.7" ry="1.7" transform="rotate(133 789.2 509.8)"/><ellipse cx="828.7" cy="510.3" rx="2.8" ry="1.6" transform="rotate(86 828.7 510.3)"/><ellipse cx="867.1" cy="509.8" rx="2.2" ry="2.3" transform="rotate(141 867.1 509.8)"/><ellipse cx="907.7" cy="509.4" rx="2.9" ry="2.4" transform="rotate(173 907.7 509.4)"/><ellipse cx="945.5" cy="509.3" rx="2.4" ry="2.1" transform="rotate(138 945.5 509.3)"/><ellipse cx="985.3" cy="509.7" rx="1.5" ry="1.1" transform="rotate(24 985.3 509.7)"/><ellipse cx="1024.5" cy="510.3" rx="0.8" ry="0.7" transform="rotate(104 1024.5 510.3)"/><ellipse cx="22.2" cy="529.3" rx="2.2" ry="1.9" transform="rotate(3 22.2 529.3)"/><ellipse cx="61.4" cy="530.3" rx="1.9" ry="1.4" transform="rotate(150 61.4 530.3)"/><ellipse cx="100.0" cy="529.5" rx="3.0" ry="1.7" transform="rotate(138 100.0 529.5)"/><ellipse cx="139.9" cy="529.4" rx="3.3" ry="2.8" transform="rotate(158 139.9 529.4)"/><ellipse cx="178.1" cy="529.0" rx="0.8" ry="0.6" transform="rotate(49 178.1 529.0)"/><ellipse cx="217.8" cy="530.4" rx="0.8" ry="0.5" transform="rotate(41 217.8 530.4)"/><ellipse cx="258.5" cy="529.3" rx="2.6" ry="2.1" transform="rotate(168 258.5 529.3)"/><ellipse cx="296.9" cy="529.5" rx="1.7" ry="1.2" transform="rotate(75 296.9 529.5)"/><ellipse cx="336.4" cy="530.4" rx="0.7" ry="0.5" transform="rotate(16 336.4 530.4)"/><ellipse cx="375.5" cy="529.4" rx="1.8" ry="1.4" transform="rotate(62 375.5 529.4)"/><ellipse cx="415.2" cy="529.8" rx="3.3" ry="2.1" transform="rotate(28 415.2 529.8)"/><ellipse cx="453.3" cy="530.2" rx="2.3" ry="2.2" transform="rotate(144 453.3 530.2)"/><ellipse cx="492.9" cy="529.2" rx="0.8" ry="0.7" transform="rotate(142 492.9 529.2)"/><ellipse cx="532.9" cy="529.2" rx="2.6" ry="1.7" transform="rotate(35 532.9 529.2)"/><ellipse cx="572.1" cy="530.4" rx="2.3" ry="1.8" transform="rotate(76 572.1 530.4)"/><ellipse cx="611.6" cy="530.4" rx="0.8" ry="0.5" transform="rotate(52 611.6 530.4)"/><ellipse cx="650.9" cy="529.5" rx="2.9" ry="1.8" transform="rotate(56 650.9 529.5)"/><ellipse cx="690.3" cy="530.9" rx="0.7" ry="0.7" transform="rotate(149 690.3 530.9)"/><ellipse cx="728.3" cy="530.2" rx="3.0" ry="2.3" transform="rotate(130 728.3 530.2)"/><ellipse cx="769.4" cy="530.8" rx="0.6" ry="0.6" transform="rotate(27 769.4 530.8)"/><ellipse cx="807.8" cy="529.7" rx="2.3" ry="1.7" transform="rotate(91 807.8 529.7)"/><ellipse cx="846.2" cy="529.8" rx="2.6" ry="2.1" transform="rotate(19 846.2 529.8)"/><ellipse cx="886.0" cy="530.0" rx="2.3" ry="2.1" transform="rotate(40 886.0 530.0)"/><ellipse cx="926.6" cy="530.9" rx="2.8" ry="1.9" transform="rotate(80 926.6 530.9)"/><ellipse cx="964.6" cy="529.1" rx="2.2" ry="1.9" transform="rotate(115 964.6 529.1)"/><ellipse cx="1004.5" cy="529.6" rx="3.7" ry="2.1" transform="rotate(84 1004.5 529.6)"/><ellipse cx="2.2" cy="549.9" rx="0.8" ry="0.7" transform="rotate(79 2.2 549.9)"/><ellipse cx="42.8" cy="549.4" rx="0.9" ry="0.5" transform="rotate(52 42.8 549.4)"/><ellipse cx="82.3" cy="549.4" rx="0.6" ry="0.5" transform="rotate(96 82.3 549.4)"/><ellipse cx="120.1" cy="549.6" rx="0.8" ry="0.6" transform="rotate(61 120.1 549.6)"/><ellipse cx="161.0" cy="550.9" rx="2.7" ry="2.3" transform="rotate(133 161.0 550.9)"/><ellipse cx="199.4" cy="550.5" rx="2.9" ry="2.0" transform="rotate(52 199.4 550.5)"/><ellipse cx="238.0" cy="550.7" rx="2.2" ry="1.7" transform="rotate(172 238.0 550.7)"/><ellipse cx="279.1" cy="549.4" rx="1.5" ry="1.2" transform="rotate(84 279.1 549.4)"/><ellipse cx="317.1" cy="549.5" rx="3.0" ry="2.2" transform="rotate(134 317.1 549.5)"/><ellipse cx="355.7" cy="550.6" rx="2.8" ry="2.2" transform="rotate(103 355.7 550.6)"/><ellipse cx="396.7" cy="550.7" rx="2.9" ry="2.3" transform="rotate(59 396.7 550.7)"/><ellipse cx="435.1" cy="549.3" rx="1.6" ry="1.2" transform="rotate(64 435.1 549.3)"/><ellipse cx="475.4" cy="550.6" rx="1.9" ry="1.2" transform="rotate(114 475.4 550.6)"/><ellipse cx="514.4" cy="550.6" rx="1.9" ry="1.4" transform="rotate(178 514.4 550.6)"/><ellipse cx="553.9" cy="549.4" rx="2.9" ry="2.6" transform="rotate(69 553.9 549.4)"/><ellipse cx="593.2" cy="550.8" rx="2.4" ry="2.2" transform="rotate(62 593.2 550.8)"/><ellipse cx="632.2" cy="550.4" rx="2.8" ry="2.8" transform="rotate(134 632.2 550.4)"/><ellipse cx="670.8" cy="550.7" rx="0.9" ry="0.6" transform="rotate(82 670.8 550.7)"/><ellipse cx="709.9" cy="549.3" rx="3.6" ry="2.2" transform="rotate(61 709.9 549.3)"/><ellipse cx="748.8" cy="549.2" rx="1.4" ry="1.4" transform="rotate(41 748.8 549.2)"/><ellipse cx="789.6" cy="551.0" rx="2.3" ry="1.9" transform="rotate(72 789.6 551.0)"/><ellipse cx="829.1" cy="550.6" rx="1.7" ry="1.5" transform="rotate(85 829.1 550.6)"/><ellipse cx="867.8" cy="550.8" rx="1.9" ry="1.3" transform="rotate(19 867.8 550.8)"/><ellipse cx="907.2" cy="549.5" rx="2.5" ry="1.9" transform="rotate(158 907.2 549.5)"/><ellipse cx="945.4" cy="550.9" rx="1.6" ry="1.5" transform="rotate(125 945.4 550.9)"/><ellipse cx="985.4" cy="549.3" rx="0.8" ry="0.6" transform="rotate(129 985.4 549.3)"/><ellipse cx="1024.2" cy="550.6" rx="2.8" ry="2.2" transform="rotate(64 1024.2 550.6)"/><ellipse cx="21.7" cy="570.0" rx="2.9" ry="2.8" transform="rotate(179 21.7 570.0)"/><ellipse cx="60.8" cy="570.7" rx="2.9" ry="1.7" transform="rotate(54 60.8 570.7)"/><ellipse cx="99.7" cy="571.1" rx="0.8" ry="0.6" transform="rotate(120 99.7 571.1)"/><ellipse cx="140.5" cy="570.3" rx="3.3" ry="2.7" transform="rotate(33 140.5 570.3)"/><ellipse cx="178.4" cy="569.2" rx="3.6" ry="2.3" transform="rotate(166 178.4 569.2)"/><ellipse cx="218.3" cy="571.1" rx="2.9" ry="2.2" transform="rotate(172 218.3 571.1)"/><ellipse cx="257.4" cy="570.4" rx="2.2" ry="2.0" transform="rotate(145 257.4 570.4)"/><ellipse cx="296.8" cy="569.4" rx="1.5" ry="1.2" transform="rotate(92 296.8 569.4)"/><ellipse cx="335.7" cy="569.7" rx="0.7" ry="0.6" transform="rotate(135 335.7 569.7)"/><ellipse cx="374.9" cy="570.4" rx="2.2" ry="2.0" transform="rotate(163 374.9 570.4)"/><ellipse cx="414.3" cy="570.9" rx="2.8" ry="2.1" transform="rotate(128 414.3 570.9)"/><ellipse cx="453.3" cy="569.3" rx="2.7" ry="2.9" transform="rotate(80 453.3 569.3)"/><ellipse cx="493.7" cy="571.2" rx="3.4" ry="2.2" transform="rotate(83 493.7 571.2)"/><ellipse cx="532.0" cy="570.0" rx="1.8" ry="1.2" transform="rotate(36 532.0 570.0)"/><ellipse cx="571.2" cy="569.6" rx="2.3" ry="1.7" transform="rotate(39 571.2 569.6)"/><ellipse cx="611.2" cy="571.1" rx="1.7" ry="1.1" transform="rotate(86 611.2 571.1)"/><ellipse cx="650.8" cy="569.5" rx="2.9" ry="1.9" transform="rotate(36 650.8 569.5)"/><ellipse cx="689.7" cy="569.9" rx="0.7" ry="0.6" transform="rotate(174 689.7 569.9)"/><ellipse cx="728.5" cy="570.9" rx="2.4" ry="2.1" transform="rotate(71 728.5 570.9)"/><ellipse cx="768.2" cy="570.5" rx="2.1" ry="2.2" transform="rotate(131 768.2 570.5)"/><ellipse cx="807.9" cy="570.5" rx="3.1" ry="2.4" transform="rotate(54 807.9 570.5)"/><ellipse cx="847.8" cy="570.8" rx="2.9" ry="1.7" transform="rotate(66 847.8 570.8)"/><ellipse cx="886.5" cy="570.0" rx="2.7" ry="1.8" transform="rotate(170 886.5 570.0)"/><ellipse cx="924.8" cy="569.8" rx="0.7" ry="0.7" transform="rotate(144 924.8 569.8)"/><ellipse cx="964.7" cy="570.3" rx="2.5" ry="1.9" transform="rotate(161 964.7 570.3)"/><ellipse cx="1004.1" cy="570.4" rx="3.4" ry="2.4" transform="rotate(60 1004.1 570.4)"/><ellipse cx="2.7" cy="591.1" rx="2.9" ry="2.4" transform="rotate(70 2.7 591.1)"/><ellipse cx="41.6" cy="590.7" rx="2.3" ry="1.8" transform="rotate(148 41.6 590.7)"/><ellipse cx="80.9" cy="589.8" rx="0.7" ry="0.5" transform="rotate(145 80.9 589.8)"/><ellipse cx="121.7" cy="591.2" rx="0.7" ry="0.6" transform="rotate(130 121.7 591.2)"/><ellipse cx="160.1" cy="589.7" rx="2.9" ry="1.7" transform="rotate(167 160.1 589.7)"/><ellipse cx="200.2" cy="590.8" rx="2.9" ry="1.9" transform="rotate(17 200.2 590.8)"/><ellipse cx="238.0" cy="589.3" rx="3.0" ry="1.6" transform="rotate(10 238.0 589.3)"/><ellipse cx="277.5" cy="590.5" rx="2.6" ry="1.7" transform="rotate(29 277.5 590.5)"/><ellipse cx="317.3" cy="590.1" rx="3.0" ry="1.9" transform="rotate(176 317.3 590.1)"/><ellipse cx="357.1" cy="589.7" rx="1.5" ry="1.5" transform="rotate(179 357.1 589.7)"/><ellipse cx="395.1" cy="590.4" rx="0.7" ry="0.6" transform="rotate(133 395.1 590.4)"/><ellipse cx="435.5" cy="590.2" rx="2.1" ry="1.9" transform="rotate(142 435.5 590.2)"/><ellipse cx="475.5" cy="591.0" rx="3.3" ry="2.3" transform="rotate(71 475.5 591.0)"/><ellipse cx="513.7" cy="590.7" rx="3.3" ry="2.2" transform="rotate(32 513.7 590.7)"/><ellipse cx="552.2" cy="590.9" rx="0.9" ry="0.7" transform="rotate(93 552.2 590.9)"/><ellipse cx="592.3" cy="591.2" rx="2.7" ry="2.0" transform="rotate(131 592.3 591.2)"/><ellipse cx="631.6" cy="589.8" rx="3.7" ry="2.6" transform="rotate(57 631.6 589.8)"/><ellipse cx="672.1" cy="590.7" rx="3.5" ry="2.7" transform="rotate(148 672.1 590.7)"/><ellipse cx="709.7" cy="591.0" rx="1.8" ry="1.2" transform="rotate(110 709.7 591.0)"/><ellipse cx="750.6" cy="590.8" rx="2.3" ry="2.2" transform="rotate(15 750.6 590.8)"/><ellipse cx="789.2" cy="590.2" rx="0.8" ry="0.6" transform="rotate(163 789.2 590.2)"/><ellipse cx="827.9" cy="589.5" rx="2.7" ry="2.7" transform="rotate(19 827.9 589.5)"/><ellipse cx="868.1" cy="590.6" rx="3.1" ry="2.7" transform="rotate(46 868.1 590.6)"/><ellipse cx="907.2" cy="589.9" rx="0.8" ry="0.6" transform="rotate(39 907.2 589.9)"/><ellipse cx="946.1" cy="590.4" rx="1.9" ry="1.5" transform="rotate(180 946.1 590.4)"/><ellipse cx="985.3" cy="591.2" rx="3.5" ry="2.4" transform="rotate(155 985.3 591.2)"/><ellipse cx="1025.2" cy="589.4" rx="2.2" ry="2.1" transform="rotate(26 1025.2 589.4)"/><ellipse cx="22.1" cy="610.2" rx="3.2" ry="2.7" transform="rotate(24 22.1 610.2)"/><ellipse cx="60.3" cy="611.1" rx="1.8" ry="1.1" transform="rotate(86 60.3 611.1)"/><ellipse cx="100.8" cy="610.9" rx="2.6" ry="2.4" transform="rotate(84 100.8 610.9)"/><ellipse cx="140.3" cy="609.6" rx="1.9" ry="1.1" transform="rotate(25 140.3 609.6)"/><ellipse cx="179.9" cy="610.3" rx="0.8" ry="0.6" transform="rotate(29 179.9 610.3)"/><ellipse cx="219.1" cy="610.6" rx="2.9" ry="2.8" transform="rotate(40 219.1 610.6)"/><ellipse cx="258.3" cy="610.3" rx="3.5" ry="2.6" transform="rotate(96 258.3 610.3)"/><ellipse cx="297.4" cy="609.9" rx="0.9" ry="0.7" transform="rotate(123 297.4 609.9)"/><ellipse cx="335.5" cy="610.8" rx="2.8" ry="2.3" transform="rotate(166 335.5 610.8)"/><ellipse cx="375.4" cy="610.4" rx="2.4" ry="1.7" transform="rotate(25 375.4 610.4)"/><ellipse cx="415.0" cy="609.7" rx="1.6" ry="1.3" transform="rotate(137 415.0 609.7)"/><ellipse cx="453.4" cy="610.6" rx="3.0" ry="2.9" transform="rotate(177 453.4 610.6)"/><ellipse cx="492.5" cy="609.8" rx="3.1" ry="2.5" transform="rotate(56 492.5 609.8)"/><ellipse cx="533.6" cy="610.8" rx="0.7" ry="0.6" transform="rotate(101 533.6 610.8)"/><ellipse cx="572.7" cy="610.7" rx="1.9" ry="1.3" transform="rotate(98 572.7 610.7)"/><ellipse cx="610.8" cy="611.3" rx="1.7" ry="1.2" transform="rotate(174 610.8 611.3)"/><ellipse cx="650.6" cy="609.6" rx="0.6" ry="0.6" transform="rotate(37 650.6 609.6)"/><ellipse cx="690.9" cy="610.8" rx="3.4" ry="2.6" transform="rotate(167 690.9 610.8)"/><ellipse cx="730.1" cy="610.0" rx="2.1" ry="1.6" transform="rotate(77 730.1 610.0)"/><ellipse cx="768.7" cy="611.0" rx="2.1" ry="1.9" transform="rotate(162 768.7 611.0)"/><ellipse cx="807.0" cy="611.3" rx="0.7" ry="0.5" transform="rotate(150 807.0 611.3)"/><ellipse cx="848.0" cy="610.2" rx="1.9" ry="1.3" transform="rotate(58 848.0 610.2)"/><ellipse cx="885.6" cy="610.9" rx="2.1" ry="2.2" transform="rotate(177 885.6 610.9)"/><ellipse cx="926.6" cy="611.4" rx="1.4" ry="1.2" transform="rotate(119 926.6 611.4)"/><ellipse cx="965.5" cy="610.5" rx="3.3" ry="2.6" transform="rotate(29 965.5 610.5)"/><ellipse cx="1003.6" cy="609.7" rx="1.9" ry="1.2" transform="rotate(25 1003.6 609.7)"/><ellipse cx="3.1" cy="630.6" rx="2.8" ry="1.7" transform="rotate(91 3.1 630.6)"/><ellipse cx="42.1" cy="630.0" rx="2.6" ry="1.6" transform="rotate(10 42.1 630.0)"/><ellipse cx="80.8" cy="630.5" rx="2.9" ry="2.7" transform="rotate(43 80.8 630.5)"/><ellipse cx="121.2" cy="631.2" rx="2.4" ry="2.1" transform="rotate(40 121.2 631.2)"/><ellipse cx="159.6" cy="629.6" rx="2.5" ry="2.2" transform="rotate(109 159.6 629.6)"/><ellipse cx="199.3" cy="630.1" rx="0.7" ry="0.5" transform="rotate(117 199.3 630.1)"/><ellipse cx="238.4" cy="630.1" rx="2.9" ry="1.8" transform="rotate(28 238.4 630.1)"/><ellipse cx="277.2" cy="629.7" rx="3.4" ry="2.4" transform="rotate(30 277.2 629.7)"/><ellipse cx="316.5" cy="630.5" rx="3.4" ry="2.2" transform="rotate(113 316.5 630.5)"/><ellipse cx="356.7" cy="629.8" rx="1.4" ry="1.4" transform="rotate(129 356.7 629.8)"/><ellipse cx="396.8" cy="629.5" rx="2.5" ry="2.1" transform="rotate(16 396.8 629.5)"/><ellipse cx="435.7" cy="631.5" rx="1.6" ry="1.1" transform="rotate(16 435.7 631.5)"/><ellipse cx="474.4" cy="630.9" rx="1.5" ry="1.4" transform="rotate(40 474.4 630.9)"/><ellipse cx="514.9" cy="631.3" rx="2.2" ry="1.7" transform="rotate(98 514.9 631.3)"/><ellipse cx="553.5" cy="630.5" rx="0.8" ry="0.6" transform="rotate(35 553.5 630.5)"/><ellipse cx="592.4" cy="629.8" rx="2.9" ry="2.8" transform="rotate(147 592.4 629.8)"/><ellipse cx="632.0" cy="631.5" rx="2.2" ry="2.1" transform="rotate(126 632.0 631.5)"/><ellipse cx="670.7" cy="629.6" rx="0.8" ry="0.7" transform="rotate(20 670.7 629.6)"/><ellipse cx="710.1" cy="630.9" rx="2.7" ry="1.9" transform="rotate(125 710.1 630.9)"/><ellipse cx="748.9" cy="631.0" rx="1.9" ry="1.2" transform="rotate(1 748.9 631.0)"/><ellipse cx="789.4" cy="629.7" rx="3.3" ry="2.2" transform="rotate(157 789.4 629.7)"/><ellipse cx="828.0" cy="631.2" rx="2.7" ry="1.6" transform="rotate(8 828.0 631.2)"/><ellipse cx="868.3" cy="630.7" rx="3.0" ry="2.8" transform="rotate(141 868.3 630.7)"/><ellipse cx="906.3" cy="630.5" rx="3.4" ry="2.9" transform="rotate(102 906.3 630.5)"/><ellipse cx="946.4" cy="629.9" rx="2.4" ry="1.9" transform="rotate(92 946.4 629.9)"/><ellipse cx="985.8" cy="629.9" rx="1.7" ry="1.3" transform="rotate(75 985.8 629.9)"/><ellipse cx="1025.4" cy="630.5" rx="2.3" ry="2.1" transform="rotate(127 1025.4 630.5)"/><ellipse cx="21.4" cy="650.4" rx="1.9" ry="1.3" transform="rotate(68 21.4 650.4)"/><ellipse cx="60.5" cy="650.5" rx="2.8" ry="1.9" transform="rotate(132 60.5 650.5)"/><ellipse cx="100.9" cy="650.0" rx="1.5" ry="1.2" transform="rotate(136 100.9 650.0)"/><ellipse cx="140.0" cy="651.0" rx="1.8" ry="1.3" transform="rotate(122 140.0 651.0)"/><ellipse cx="179.9" cy="650.6" rx="1.4" ry="1.2" transform="rotate(6 179.9 650.6)"/><ellipse cx="218.0" cy="649.8" rx="3.0" ry="2.2" transform="rotate(41 218.0 649.8)"/><ellipse cx="257.1" cy="650.6" rx="3.5" ry="2.5" transform="rotate(66 257.1 650.6)"/><ellipse cx="296.8" cy="650.4" rx="2.9" ry="2.2" transform="rotate(156 296.8 650.4)"/><ellipse cx="335.8" cy="651.4" rx="1.9" ry="1.1" transform="rotate(28 335.8 651.4)"/><ellipse cx="375.4" cy="650.0" rx="3.0" ry="2.8" transform="rotate(160 375.4 650.0)"/><ellipse cx="414.7" cy="650.4" rx="3.0" ry="2.1" transform="rotate(163 414.7 650.4)"/><ellipse cx="453.9" cy="649.6" rx="2.3" ry="1.6" transform="rotate(70 453.9 649.6)"/><ellipse cx="493.6" cy="650.0" rx="1.8" ry="1.2" transform="rotate(122 493.6 650.0)"/><ellipse cx="532.1" cy="651.3" rx="0.8" ry="0.6" transform="rotate(53 532.1 651.3)"/><ellipse cx="571.6" cy="649.7" rx="2.9" ry="2.5" transform="rotate(103 571.6 649.7)"/><ellipse cx="610.5" cy="650.0" rx="1.7" ry="1.3" transform="rotate(92 610.5 650.0)"/><ellipse cx="649.8" cy="651.6" rx="1.6" ry="1.2" transform="rotate(162 649.8 651.6)"/><ellipse cx="689.7" cy="649.7" rx="1.9" ry="1.2" transform="rotate(106 689.7 649.7)"/><ellipse cx="729.2" cy="651.6" rx="3.6" ry="2.3" transform="rotate(140 729.2 651.6)"/><ellipse cx="769.1" cy="651.3" rx="0.7" ry="0.5" transform="rotate(112 769.1 651.3)"/><ellipse cx="807.3" cy="651.1" rx="2.4" ry="2.2" transform="rotate(19 807.3 651.1)"/><ellipse cx="846.5" cy="649.6" rx="3.0" ry="1.7" transform="rotate(83 846.5 649.6)"/><ellipse cx="886.4" cy="650.2" rx="0.7" ry="0.6" transform="rotate(78 886.4 650.2)"/><ellipse cx="925.7" cy="650.6" rx="2.5" ry="2.3" transform="rotate(30 925.7 650.6)"/><ellipse cx="964.7" cy="650.3" rx="1.9" ry="1.1" transform="rotate(158 964.7 650.3)"/><ellipse cx="1005.2" cy="650.3" rx="2.6" ry="1.8" transform="rotate(15 1005.2 650.3)"/><ellipse cx="2.7" cy="671.4" rx="0.8" ry="0.6" transform="rotate(59 2.7 671.4)"/><ellipse cx="42.1" cy="670.0" rx="1.6" ry="1.5" transform="rotate(65 42.1 670.0)"/><ellipse cx="81.1" cy="671.3" rx="2.7" ry="1.9" transform="rotate(73 81.1 671.3)"/><ellipse cx="120.0" cy="670.1" rx="2.8" ry="1.9" transform="rotate(132 120.0 670.1)"/><ellipse cx="160.1" cy="670.1" rx="3.4" ry="2.6" transform="rotate(89 160.1 670.1)"/><ellipse cx="199.8" cy="670.0" rx="0.8" ry="0.6" transform="rotate(47 199.8 670.0)"/><ellipse cx="238.9" cy="670.0" rx="2.2" ry="2.0" transform="rotate(57 238.9 670.0)"/><ellipse cx="278.5" cy="670.8" rx="2.6" ry="1.7" transform="rotate(56 278.5 670.8)"/><ellipse cx="317.3" cy="671.4" rx="2.8" ry="2.0" transform="rotate(40 317.3 671.4)"/><ellipse cx="357.6" cy="671.3" rx="2.8" ry="1.9" transform="rotate(81 357.6 671.3)"/><ellipse cx="396.9" cy="671.6" rx="2.2" ry="2.0" transform="rotate(6 396.9 671.6)"/><ellipse cx="436.0" cy="670.7" rx="2.3" ry="2.2" transform="rotate(32 436.0 670.7)"/><ellipse cx="475.0" cy="670.8" rx="0.9" ry="0.6" transform="rotate(149 475.0 670.8)"/><ellipse cx="513.0" cy="670.4" rx="2.8" ry="2.8" transform="rotate(61 513.0 670.4)"/><ellipse cx="552.5" cy="670.3" rx="0.7" ry="0.6" transform="rotate(22 552.5 670.3)"/><ellipse cx="593.5" cy="670.6" rx="1.9" ry="1.5" transform="rotate(157 593.5 670.6)"/><ellipse cx="632.3" cy="670.2" rx="2.9" ry="2.8" transform="rotate(146 632.3 670.2)"/><ellipse cx="671.8" cy="670.0" rx="0.9" ry="0.6" transform="rotate(110 671.8 670.0)"/><ellipse cx="709.8" cy="671.6" rx="2.5" ry="2.2" transform="rotate(82 709.8 671.6)"/><ellipse cx="750.1" cy="670.5" rx="1.8" ry="1.4" transform="rotate(45 750.1 670.5)"/><ellipse cx="789.0" cy="670.7" rx="1.5" ry="1.5" transform="rotate(66 789.0 670.7)"/><ellipse cx="828.0" cy="670.1" rx="0.8" ry="0.6" transform="rotate(158 828.0 670.1)"/><ellipse cx="867.6" cy="670.0" rx="1.8" ry="1.3" transform="rotate(73 867.6 670.0)"/><ellipse cx="906.3" cy="671.1" rx="3.2" ry="2.5" transform="rotate(142 906.3 671.1)"/><ellipse cx="946.5" cy="670.7" rx="1.8" ry="1.1" transform="rotate(50 946.5 670.7)"/><ellipse cx="984.5" cy="671.3" rx="1.7" ry="1.1" transform="rotate(79 984.5 671.3)"/><ellipse cx="1025.1" cy="670.0" rx="1.8" ry="1.3" transform="rotate(108 1025.1 670.0)"/><ellipse cx="22.2" cy="691.4" rx="2.9" ry="2.8" transform="rotate(142 22.2 691.4)"/><ellipse cx="60.3" cy="690.6" rx="2.7" ry="2.3" transform="rotate(34 60.3 690.6)"/><ellipse cx="100.2" cy="690.1" rx="2.2" ry="1.8" transform="rotate(156 100.2 690.1)"/><ellipse cx="139.8" cy="690.7" rx="0.8" ry="0.5" transform="rotate(86 139.8 690.7)"/><ellipse cx="178.4" cy="689.9" rx="2.8" ry="1.6" transform="rotate(167 178.4 689.9)"/><ellipse cx="218.9" cy="690.4" rx="3.3" ry="2.5" transform="rotate(39 218.9 690.4)"/><ellipse cx="257.3" cy="690.8" rx="2.3" ry="2.0" transform="rotate(117 257.3 690.8)"/><ellipse cx="297.0" cy="691.3" rx="0.8" ry="0.6" transform="rotate(28 297.0 691.3)"/><ellipse cx="335.7" cy="690.0" rx="0.9" ry="0.7" transform="rotate(9 335.7 690.0)"/><ellipse cx="375.1" cy="690.7" rx="1.4" ry="1.3" transform="rotate(45 375.1 690.7)"/><ellipse cx="414.2" cy="689.8" rx="1.8" ry="1.4" transform="rotate(21 414.2 689.8)"/><ellipse cx="455.1" cy="690.2" rx="1.4" ry="1.4" transform="rotate(140 455.1 690.2)"/><ellipse cx="493.2" cy="690.4" rx="0.8" ry="0.6" transform="rotate(168 493.2 690.4)"/><ellipse cx="532.6" cy="691.3" rx="0.9" ry="0.6" transform="rotate(79 532.6 691.3)"/><ellipse cx="572.8" cy="690.6" rx="3.2" ry="2.2" transform="rotate(73 572.8 690.6)"/><ellipse cx="610.8" cy="690.9" rx="2.6" ry="1.9" transform="rotate(103 610.8 690.9)"/><ellipse cx="651.6" cy="689.8" rx="2.7" ry="2.4" transform="rotate(159 651.6 689.8)"/><ellipse cx="689.2" cy="690.4" rx="2.7" ry="2.2" transform="rotate(85 689.2 690.4)"/><ellipse cx="729.5" cy="691.1" rx="2.7" ry="1.8" transform="rotate(116 729.5 691.1)"/><ellipse cx="768.2" cy="690.1" rx="0.8" ry="0.6" transform="rotate(107 768.2 690.1)"/><ellipse cx="807.9" cy="691.4" rx="2.3" ry="2.2" transform="rotate(55 807.9 691.4)"/><ellipse cx="846.2" cy="691.2" rx="0.8" ry="0.5" transform="rotate(169 846.2 691.2)"/><ellipse cx="886.2" cy="690.0" rx="1.5" ry="1.2" transform="rotate(90 886.2 690.0)"/><ellipse cx="925.6" cy="690.3" rx="2.3" ry="2.3" transform="rotate(69 925.6 690.3)"/><ellipse cx="964.8" cy="691.3" rx="3.0" ry="2.6" transform="rotate(150 964.8 691.3)"/><ellipse cx="1005.0" cy="690.2" rx="1.4" ry="1.1" transform="rotate(81 1005.0 690.2)"/></g>

<circle cx="714.5" cy="316" r="279" fill="#F3C54A" stroke="#4577B4" stroke-width="7"/>
<circle cx="714.5" cy="378.3" r="216.8" fill="#EED185" stroke="#4577B4" stroke-width="7"/>
<circle cx="714.5" cy="459" r="136.5" fill="#F1E1B5" stroke="#4577B4" stroke-width="7"/>
<circle cx="714.7" cy="536" r="59.5" fill="#FFFFFF" stroke="#4577B4" stroke-width="6.6"/>

<g fill="#3C5DB1">
<g transform="translate(683.3,48.5) scale(0.7)"><path d="M16.7,13.1 L19.32,20.80 17.82,21.00 21.02,25.80 19.52,26.00 22.69,30.70 21.19,30.90 24.69,36.60 23.19,36.80 26.60,42.20 L17.9,42.2 L17.9,50.8 L15.4,50.8 L15.4,42.2 L6.50,42.20 9.96,36.80 8.46,36.60 12.03,30.90 10.53,30.70 13.75,26.00 12.25,25.80 15.50,21.00 14.00,20.80 Z"/><path d="M75.8,4.9 L82.4,18.2 L86.5,13.0 L89.39,21.50 87.89,21.70 90.79,25.60 89.29,25.80 92.28,30.00 90.78,30.20 94.29,35.90 92.79,36.10 96.40,42.10 L87.9,42.1 L87.9,50.6 L85.4,50.6 L85.4,42.1 L77.6,42.1 L77.6,50.6 L74.3,50.6 L74.3,40.3 L66.2,40.3 L71.45,25.80 69.95,25.60 73.12,19.90 71.62,19.70 74.48,15.10 72.98,14.90 Z"/><path d="M35.2,15.2 Q47.4,8.6 60.5,15.2 L67.4,28.3 L66,28.6 L66,51 L28.8,51 L28.8,28.8 L27.3,29 Z"/><circle cx="47.4" cy="8.3" r="2.1"/><rect x="43.5" y="18.5" width="8.20" height="7.50" fill="#F3C54A"/><path d="M43.5,18.5 L51.7,26 M51.7,18.5 L43.5,26" stroke="#3C5DB1" stroke-width="0.9" fill="none"/><rect x="38.2" y="36.2" width="7.80" height="13.10" fill="#F3C54A"/><path d="M38.2,36.2 L46,49.3 M46,36.2 L38.2,49.3" stroke="#3C5DB1" stroke-width="0.9" fill="none"/><rect x="48.8" y="36.2" width="8.20" height="13.10" fill="#F3C54A"/><path d="M48.8,36.2 L57,49.3 M57,36.2 L48.8,49.3" stroke="#3C5DB1" stroke-width="0.9" fill="none"/></g>
<g transform="translate(712.6,196) scale(0.92)"><g transform="rotate(0)"><rect x="-2.8" y="-26" width="5.4" height="5"/><path d="M-2.8,-21.8 L2.6,-21.8 L4.6,-18.8 L5.3,-15 L3.8,-12.2 L-3.8,-12.4 L-4.6,-15 L-4.4,-18.6 Z"/><g stroke="#3C5DB1" stroke-linecap="round" fill="none"><path d="M-3.5,-13.4 L-6.7,-9.4" stroke-width="1.9"/><path d="M-1.5,-12.8 L-3.1,-6.4" stroke-width="1.9"/><path d="M0.7,-12.8 L1.0,-5.2" stroke-width="1.9"/><path d="M2.8,-13 L5.4,-7.0" stroke-width="1.9"/><path d="M4.2,-17 L9.3,-14.2" stroke-width="2.2"/></g></g><g transform="rotate(72)"><rect x="-2.8" y="-26" width="5.4" height="5"/><path d="M-2.8,-21.8 L2.6,-21.8 L4.6,-18.8 L5.3,-15 L3.8,-12.2 L-3.8,-12.4 L-4.6,-15 L-4.4,-18.6 Z"/><g stroke="#3C5DB1" stroke-linecap="round" fill="none"><path d="M-3.5,-13.4 L-6.7,-9.4" stroke-width="1.9"/><path d="M-1.5,-12.8 L-3.1,-6.4" stroke-width="1.9"/><path d="M0.7,-12.8 L1.0,-5.2" stroke-width="1.9"/><path d="M2.8,-13 L5.4,-7.0" stroke-width="1.9"/><path d="M4.2,-17 L9.3,-14.2" stroke-width="2.2"/></g></g><g transform="rotate(144)"><rect x="-2.8" y="-26" width="5.4" height="5"/><path d="M-2.8,-21.8 L2.6,-21.8 L4.6,-18.8 L5.3,-15 L3.8,-12.2 L-3.8,-12.4 L-4.6,-15 L-4.4,-18.6 Z"/><g stroke="#3C5DB1" stroke-linecap="round" fill="none"><path d="M-3.5,-13.4 L-6.7,-9.4" stroke-width="1.9"/><path d="M-1.5,-12.8 L-3.1,-6.4" stroke-width="1.9"/><path d="M0.7,-12.8 L1.0,-5.2" stroke-width="1.9"/><path d="M2.8,-13 L5.4,-7.0" stroke-width="1.9"/><path d="M4.2,-17 L9.3,-14.2" stroke-width="2.2"/></g></g><g transform="rotate(216)"><rect x="-2.8" y="-26" width="5.4" height="5"/><path d="M-2.8,-21.8 L2.6,-21.8 L4.6,-18.8 L5.3,-15 L3.8,-12.2 L-3.8,-12.4 L-4.6,-15 L-4.4,-18.6 Z"/><g stroke="#3C5DB1" stroke-linecap="round" fill="none"><path d="M-3.5,-13.4 L-6.7,-9.4" stroke-width="1.9"/><path d="M-1.5,-12.8 L-3.1,-6.4" stroke-width="1.9"/><path d="M0.7,-12.8 L1.0,-5.2" stroke-width="1.9"/><path d="M2.8,-13 L5.4,-7.0" stroke-width="1.9"/><path d="M4.2,-17 L9.3,-14.2" stroke-width="2.2"/></g></g><g transform="rotate(288)"><rect x="-2.8" y="-26" width="5.4" height="5"/><path d="M-2.8,-21.8 L2.6,-21.8 L4.6,-18.8 L5.3,-15 L3.8,-12.2 L-3.8,-12.4 L-4.6,-15 L-4.4,-18.6 Z"/><g stroke="#3C5DB1" stroke-linecap="round" fill="none"><path d="M-3.5,-13.4 L-6.7,-9.4" stroke-width="1.9"/><path d="M-1.5,-12.8 L-3.1,-6.4" stroke-width="1.9"/><path d="M0.7,-12.8 L1.0,-5.2" stroke-width="1.9"/><path d="M2.8,-13 L5.4,-7.0" stroke-width="1.9"/><path d="M4.2,-17 L9.3,-14.2" stroke-width="2.2"/></g></g></g>
<g transform="translate(695.7,335) scale(0.89) translate(-7,-5)"><path d="M23.6,20 L33.5,20 C35,20 36,21 36.5,22.5 L41.5,39 C42,41 42,42.5 40,43 L46.5,52 L44.5,53 L37.8,44.5 L35.5,38.5 L33.5,46 L31.6,46 L31.6,71.5 C31.6,74 29.5,74 28,74 C26,74 24.4,74 24.4,71.5 L24.4,46 L22.8,46 L22.8,71.5 C22.8,74 21,74 19.5,74 C17.5,74 15.5,74 15.5,71.5 L15.5,46 L13.8,46 L13.8,38.5 L10.5,43 C9,44.5 6.5,43.5 7,41.5 L10.5,22.5 C11,21 12,20 13.8,20 Z"/><circle cx="23.6" cy="12.1" r="6.7"/><path d="M45.5,51.7 L51.5,51.7 C52.5,51.7 53,52.2 53.4,53 L56.6,62 C57,63 56,63.8 55.2,63 L52.8,57.5 L52.6,65.5 L51.8,65.5 L51.8,73 C51.8,74 49,74 48.8,73 L48.4,66.5 L47.6,66.5 L47.4,73 C47.2,74 44.5,74 44.3,73 L44.3,54.5 L44,52.5 Z"/><circle cx="47.8" cy="47.7" r="3.5"/><circle cx="23.67" cy="27.1" r="4.7" fill="#F1E1B5"/><path d="M23.67,26.3 C23.2,24.8 21.0,24.8 21.0,26.5 C21.0,27.9 22.6,28.9 23.67,30.2 C24.7,28.9 26.3,27.9 26.3,26.5 C26.3,24.8 24.1,24.8 23.67,26.3 Z" fill="#3C5DB1"/><circle cx="48.1" cy="56.1" r="3.2" fill="#F1E1B5"/><path d="M48.1,55.5 C47.8,54.5 46.3,54.5 46.3,55.7 C46.3,56.6 47.4,57.3 48.1,58.2 C48.8,57.3 49.9,56.6 49.9,55.7 C49.9,54.5 48.4,54.5 48.1,55.5 Z" fill="#3C5DB1"/></g>
<g transform="translate(714.5,503.4) scale(1.1)"><circle cx="0" cy="0" r="6"/><path d="M-4.5,7.8 L4.5,7.8 C7.6,7.8 9.5,9.7 9.5,13 L9.5,20 C9.5,22.5 8.6,24 6.1,25.2 L6.1,33 C6.1,37 3.6,38.6 0,38.6 C-3.6,38.6 -6.1,37 -6.1,33 L-6.1,25.2 C-8.6,24 -9.5,22.5 -9.5,20 L-9.5,13 C-9.5,9.7 -7.6,7.8 -4.5,7.8 Z"/></g>
<text x="677.4" y="106.8" font-size="22" textLength="83.6" lengthAdjust="spacingAndGlyphs" font-family="Liberation Serif" ><tspan font-weight="bold" stroke="#3C5DB1" stroke-width="0.45">SYSTEM</tspan></text><text x="621" y="126.3" font-size="16.5" textLength="193.0" lengthAdjust="spacingAndGlyphs" font-family="Liberation Serif" ><tspan font-weight="bold" stroke="#3C5DB1" stroke-width="0.45">local and state-level early</tspan></text><text x="611.5" y="145" font-size="16.5" textLength="215.8" lengthAdjust="spacingAndGlyphs" font-family="Liberation Serif" ><tspan font-weight="bold" stroke="#3C5DB1" stroke-width="0.45">childhood policy and system</tspan></text><text x="640" y="243.3" font-size="21.7" textLength="130.6" lengthAdjust="spacingAndGlyphs" font-family="Liberation Serif" ><tspan font-weight="bold" stroke="#3C5DB1" stroke-width="0.45">COMMUNITY</tspan></text><text x="566" y="262.5" font-size="16.5" textLength="292.8" lengthAdjust="spacingAndGlyphs" font-family="Liberation Serif" ><tspan font-weight="bold" stroke="#3C5DB1" stroke-width="0.45">early childhood services and resources</tspan></text><text x="582.5" y="281" font-size="16.5" textLength="257.5" lengthAdjust="spacingAndGlyphs" font-family="Liberation Serif" ><tspan font-weight="bold" stroke="#3C5DB1" stroke-width="0.45">such as hospitals, food, child care,</tspan></text><text x="631.6" y="300" font-size="16.5" textLength="162.4" lengthAdjust="spacingAndGlyphs" font-family="Liberation Serif" ><tspan font-weight="bold" stroke="#3C5DB1" stroke-width="0.45">schools, libraries, etc.</tspan></text><text x="680.9" y="420.5" font-size="20.6" textLength="73.1" lengthAdjust="spacingAndGlyphs" font-family="Liberation Serif" ><tspan font-weight="bold" stroke="#3C5DB1" stroke-width="0.45">FAMILY</tspan></text><text x="653" y="441" font-size="16.5" textLength="126.6" lengthAdjust="spacingAndGlyphs" font-family="Liberation Serif" ><tspan font-weight="bold" stroke="#3C5DB1" stroke-width="0.45">caregiver, teacher,</tspan></text><text x="654" y="457" font-size="16.5" textLength="127.7" lengthAdjust="spacingAndGlyphs" font-family="Liberation Serif" ><tspan font-weight="bold" stroke="#3C5DB1" stroke-width="0.45">other professional</tspan></text><text x="687" y="572.5" font-size="20.6" textLength="57.0" lengthAdjust="spacingAndGlyphs" font-family="Liberation Serif" ><tspan font-weight="bold" stroke="#3C5DB1" stroke-width="0.45">CHILD</tspan></text>
</g>
</svg>
</body></html>
